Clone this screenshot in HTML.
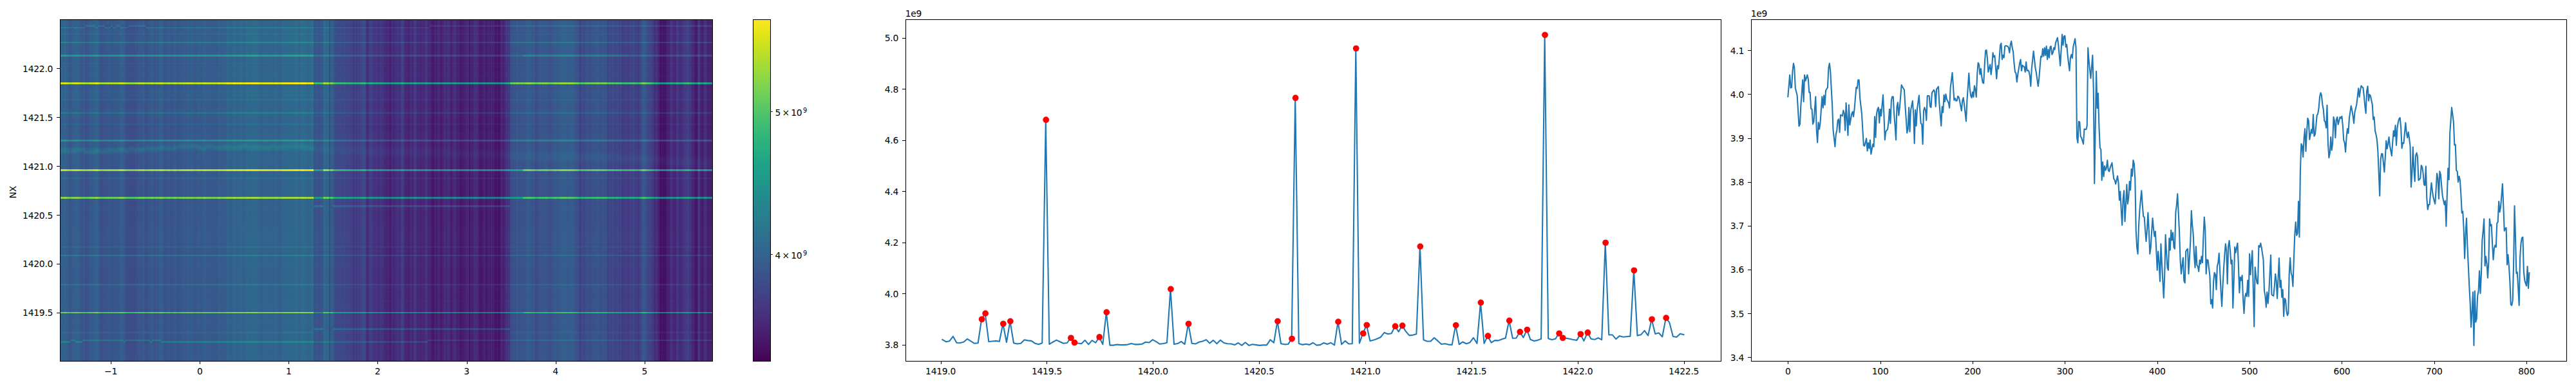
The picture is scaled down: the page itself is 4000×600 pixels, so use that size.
<!DOCTYPE html><html><head><meta charset="utf-8"><title>figure</title>
<style>html,body{margin:0;padding:0;background:#fff;overflow:hidden}svg{display:block}text{font-family:"DejaVu Sans","Liberation Sans",sans-serif;font-size:13.889px;fill:#000;letter-spacing:-0.25px}</style></head><body>
<svg width="4000" height="600" viewBox="0 0 4000 600">
<rect width="4000" height="600" fill="#fff"/>
<defs>
<filter id="vir" filterUnits="userSpaceOnUse" x="90" y="28" width="2120" height="536" color-interpolation-filters="sRGB">
<feOffset in="SourceGraphic" dx="-1100" dy="0" result="rows"/>
<feComposite in="SourceGraphic" in2="rows" operator="arithmetic" k1="0.5609" k2="1" k3="0.5279" k4="0" result="n"/>
<feComponentTransfer in="n"><feFuncR type="table" tableValues=".267 .269 .270 .271 .273 .274 .275 .276 .277 .278 .279 .280 .280 .281 .281 .282 .282 .283 .283 .283 .283 .283 .283 .283 .283 .283 .282 .282 .281 .281 .280 .280 .279 .278 .277 .276 .275 .274 .273 .272 .271 .269 .268 .267 .265 .264 .262 .261 .259 .257 .256 .254 .252 .250 .249 .247 .245 .243 .241 .239 .237 .236 .234 .232 .230 .228 .226 .224 .222 .220 .218 .216 .214 .212 .211 .209 .207 .205 .203 .201 .199 .198 .196 .194 .192 .191 .189 .187 .186 .184 .182 .181 .179 .177 .176 .174 .173 .171 .170 .168 .167 .165 .164 .162 .161 .159 .158 .156 .155 .153 .152 .150 .149 .148 .146 .145 .143 .142 .141 .139 .138 .136 .135 .134 .132 .131 .130 .129 .128 .126 .125 .124 .123 .123 .122 .121 .121 .120 .120 .120 .119 .119 .120 .120 .121 .121 .122 .123 .125 .126 .128 .130 .132 .135 .137 .140 .143 .147 .150 .154 .158 .162 .166 .171 .176 .181 .186 .191 .197 .202 .208 .214 .220 .226 .233 .239 .246 .253 .260 .267 .274 .281 .289 .296 .304 .312 .320 .328 .336 .344 .352 .361 .369 .378 .386 .395 .404 .413 .422 .431 .440 .449 .459 .468 .478 .487 .497 .506 .516 .526 .536 .546 .555 .565 .576 .586 .596 .606 .616 .627 .637 .647 .658 .668 .678 .689 .699 .710 .720 .731 .741 .752 .762 .773 .783 .794 .804 .815 .825 .835 .846 .856 .866 .876 .886 .896 .906 .916 .926 .936 .946 .955 .965 .974 .984 .993"/><feFuncG type="table" tableValues=".005 .010 .015 .020 .026 .031 .038 .044 .050 .056 .062 .068 .073 .079 .084 .090 .095 .100 .105 .111 .116 .121 .126 .131 .136 .141 .146 .151 .156 .161 .166 .171 .175 .180 .185 .190 .195 .200 .205 .209 .214 .219 .224 .228 .233 .238 .242 .247 .252 .256 .261 .265 .270 .274 .279 .283 .288 .292 .296 .301 .305 .310 .314 .318 .322 .327 .331 .335 .339 .343 .347 .352 .356 .360 .364 .368 .372 .376 .380 .384 .388 .392 .395 .399 .403 .407 .411 .415 .419 .422 .426 .430 .434 .438 .441 .445 .449 .453 .456 .460 .464 .467 .471 .475 .479 .482 .486 .490 .493 .497 .501 .504 .508 .512 .515 .519 .523 .526 .530 .534 .537 .541 .545 .549 .552 .556 .560 .563 .567 .571 .574 .578 .582 .585 .589 .593 .596 .600 .604 .607 .611 .615 .618 .622 .626 .629 .633 .637 .640 .644 .648 .651 .655 .659 .662 .666 .669 .673 .677 .680 .684 .687 .691 .694 .698 .701 .705 .708 .712 .715 .719 .722 .726 .729 .732 .736 .739 .742 .745 .749 .752 .755 .758 .762 .765 .768 .771 .774 .777 .780 .783 .786 .789 .792 .795 .797 .800 .803 .806 .808 .811 .814 .816 .819 .821 .824 .826 .829 .831 .833 .836 .838 .840 .842 .845 .847 .849 .851 .853 .855 .857 .858 .860 .862 .864 .865 .867 .869 .870 .872 .873 .875 .876 .878 .879 .881 .882 .883 .885 .886 .887 .889 .890 .891 .892 .894 .895 .896 .897 .899 .900 .901 .902 .904 .905 .906"/><feFuncB type="table" tableValues=".329 .335 .341 .347 .353 .359 .365 .370 .376 .381 .387 .392 .397 .402 .407 .412 .417 .422 .427 .432 .436 .441 .445 .449 .453 .458 .462 .465 .469 .473 .476 .480 .483 .487 .490 .493 .496 .499 .502 .504 .507 .510 .512 .514 .517 .519 .521 .523 .525 .527 .528 .530 .532 .533 .535 .536 .537 .539 .540 .541 .542 .543 .544 .545 .546 .547 .547 .548 .549 .549 .550 .551 .551 .552 .552 .553 .553 .554 .554 .554 .555 .555 .555 .556 .556 .556 .556 .557 .557 .557 .557 .557 .557 .558 .558 .558 .558 .558 .558 .558 .558 .558 .558 .558 .558 .558 .558 .558 .558 .558 .558 .557 .557 .557 .557 .557 .556 .556 .556 .555 .555 .554 .554 .554 .553 .552 .552 .551 .551 .550 .549 .548 .547 .547 .546 .545 .544 .543 .541 .540 .539 .538 .536 .535 .533 .532 .530 .529 .527 .525 .523 .522 .520 .518 .516 .513 .511 .509 .507 .504 .502 .499 .497 .494 .491 .488 .485 .482 .479 .476 .473 .470 .466 .463 .459 .456 .452 .448 .444 .441 .437 .433 .428 .424 .420 .416 .411 .407 .402 .397 .393 .388 .383 .378 .373 .368 .363 .357 .352 .346 .341 .335 .330 .324 .318 .312 .306 .300 .294 .288 .282 .276 .269 .263 .256 .250 .243 .237 .230 .223 .217 .210 .203 .196 .190 .183 .176 .169 .163 .156 .150 .143 .137 .131 .125 .120 .115 .110 .106 .103 .100 .097 .096 .095 .095 .096 .098 .101 .104 .108 .113 .118 .124 .130 .137 .144"/></feComponentTransfer>
</filter>
<clipPath id="c1"><rect x="93" y="30" width="1014" height="532"/></clipPath>
<linearGradient id="cbg" x1="0" y1="0" x2="0" y2="1"><stop offset="0.0000" stop-color="#fde725"/><stop offset="0.0159" stop-color="#f4e61e"/><stop offset="0.0317" stop-color="#eae51a"/><stop offset="0.0476" stop-color="#dfe318"/><stop offset="0.0635" stop-color="#d5e21a"/><stop offset="0.0794" stop-color="#cae11f"/><stop offset="0.0952" stop-color="#c0df25"/><stop offset="0.1111" stop-color="#b5de2b"/><stop offset="0.1270" stop-color="#aadc32"/><stop offset="0.1429" stop-color="#a0da39"/><stop offset="0.1587" stop-color="#95d840"/><stop offset="0.1746" stop-color="#8bd646"/><stop offset="0.1905" stop-color="#81d34d"/><stop offset="0.2063" stop-color="#77d153"/><stop offset="0.2222" stop-color="#6ece58"/><stop offset="0.2381" stop-color="#65cb5e"/><stop offset="0.2540" stop-color="#5ac864"/><stop offset="0.2698" stop-color="#52c569"/><stop offset="0.2857" stop-color="#4ac16d"/><stop offset="0.3016" stop-color="#42be71"/><stop offset="0.3175" stop-color="#3bbb75"/><stop offset="0.3333" stop-color="#35b779"/><stop offset="0.3492" stop-color="#2fb47c"/><stop offset="0.3651" stop-color="#2ab07f"/><stop offset="0.3810" stop-color="#26ad81"/><stop offset="0.3968" stop-color="#23a983"/><stop offset="0.4127" stop-color="#21a585"/><stop offset="0.4286" stop-color="#1fa187"/><stop offset="0.4444" stop-color="#1f9e89"/><stop offset="0.4603" stop-color="#1f9a8a"/><stop offset="0.4762" stop-color="#1f968b"/><stop offset="0.4921" stop-color="#20928c"/><stop offset="0.5079" stop-color="#218e8d"/><stop offset="0.5238" stop-color="#238a8d"/><stop offset="0.5397" stop-color="#24868e"/><stop offset="0.5556" stop-color="#26828e"/><stop offset="0.5714" stop-color="#277f8e"/><stop offset="0.5873" stop-color="#297b8e"/><stop offset="0.6032" stop-color="#2a778e"/><stop offset="0.6190" stop-color="#2c738e"/><stop offset="0.6349" stop-color="#2d708e"/><stop offset="0.6508" stop-color="#2f6c8e"/><stop offset="0.6667" stop-color="#31688e"/><stop offset="0.6825" stop-color="#32648e"/><stop offset="0.6984" stop-color="#34608d"/><stop offset="0.7143" stop-color="#365c8d"/><stop offset="0.7302" stop-color="#38588c"/><stop offset="0.7460" stop-color="#3a538b"/><stop offset="0.7619" stop-color="#3d4e8a"/><stop offset="0.7778" stop-color="#3e4989"/><stop offset="0.7937" stop-color="#404588"/><stop offset="0.8095" stop-color="#424086"/><stop offset="0.8254" stop-color="#443b84"/><stop offset="0.8413" stop-color="#453781"/><stop offset="0.8571" stop-color="#46327e"/><stop offset="0.8730" stop-color="#472d7b"/><stop offset="0.8889" stop-color="#482878"/><stop offset="0.9048" stop-color="#482374"/><stop offset="0.9206" stop-color="#481d6f"/><stop offset="0.9365" stop-color="#48186a"/><stop offset="0.9524" stop-color="#471365"/><stop offset="0.9683" stop-color="#470d60"/><stop offset="0.9841" stop-color="#46075a"/><stop offset="1.0000" stop-color="#440154"/></linearGradient>
<clipPath id="c2"><rect x="1405.76" y="30.17" width="1266.26" height="531.11"/></clipPath>
<clipPath id="c3"><rect x="2718.74" y="30.17" width="1266.26" height="531.11"/></clipPath>
</defs>
<g clip-path="url(#c1)"><g filter="url(#vir)" shape-rendering="crispEdges">
<rect x="90" y="28" width="1020" height="536" fill="#000"/>
<rect x="1190" y="28" width="1020" height="536" fill="#000"/>
<rect x="92.78" y="29" width="1.28" height="534" fill="#474747"/>
<rect x="94.04" y="29" width="1.28" height="534" fill="#4a4a4a"/>
<rect x="95.3" y="29" width="1.28" height="534" fill="#4d4d4d"/>
<rect x="96.56" y="29" width="1.28" height="534" fill="#494949"/>
<rect x="97.82" y="29" width="1.28" height="534" fill="#4a4a4a"/>
<rect x="99.08" y="29" width="1.28" height="534" fill="#4e4e4e"/>
<rect x="100.34" y="29" width="1.28" height="534" fill="#505050"/>
<rect x="101.6" y="29" width="1.28" height="534" fill="#4f4f4f"/>
<rect x="102.86" y="29" width="1.28" height="534" fill="#494949"/>
<rect x="104.12" y="29" width="1.28" height="534" fill="#484848"/>
<rect x="105.38" y="29" width="1.28" height="534" fill="#474747"/>
<rect x="106.64" y="29" width="1.28" height="534" fill="#434343"/>
<rect x="107.9" y="29" width="1.28" height="534" fill="#3f3f3f"/>
<rect x="109.16" y="29" width="1.28" height="534" fill="#404040"/>
<rect x="110.42" y="29" width="1.28" height="534" fill="#454545"/>
<rect x="111.68" y="29" width="1.28" height="534" fill="#484848"/>
<rect x="112.94" y="29" width="1.28" height="534" fill="#4c4c4c"/>
<rect x="114.2" y="29" width="1.28" height="534" fill="#464646"/>
<rect x="115.46" y="29" width="1.28" height="534" fill="#4d4d4d"/>
<rect x="116.72" y="29" width="1.28" height="534" fill="#4b4b4b"/>
<rect x="117.98" y="29" width="1.28" height="534" fill="#4c4c4c"/>
<rect x="119.24" y="29" width="1.28" height="534" fill="#4d4d4d"/>
<rect x="120.5" y="29" width="1.28" height="534" fill="#4c4c4c"/>
<rect x="121.76" y="29" width="2.54" height="534" fill="#484848"/>
<rect x="124.28" y="29" width="2.54" height="534" fill="#444444"/>
<rect x="126.8" y="29" width="2.54" height="534" fill="#404040"/>
<rect x="129.32" y="29" width="1.28" height="534" fill="#444444"/>
<rect x="130.58" y="29" width="1.28" height="534" fill="#474747"/>
<rect x="131.84" y="29" width="1.28" height="534" fill="#3e3e3e"/>
<rect x="133.1" y="29" width="1.28" height="534" fill="#3b3b3b"/>
<rect x="134.36" y="29" width="1.28" height="534" fill="#404040"/>
<rect x="135.62" y="29" width="1.28" height="534" fill="#3e3e3e"/>
<rect x="136.88" y="29" width="1.28" height="534" fill="#404040"/>
<rect x="138.14" y="29" width="1.28" height="534" fill="#444444"/>
<rect x="139.4" y="29" width="1.28" height="534" fill="#474747"/>
<rect x="140.66" y="29" width="1.28" height="534" fill="#444444"/>
<rect x="141.92" y="29" width="1.28" height="534" fill="#474747"/>
<rect x="143.18" y="29" width="1.28" height="534" fill="#454545"/>
<rect x="144.44" y="29" width="2.54" height="534" fill="#494949"/>
<rect x="146.96" y="29" width="1.28" height="534" fill="#4a4a4a"/>
<rect x="148.22" y="29" width="1.28" height="534" fill="#4f4f4f"/>
<rect x="149.48" y="29" width="1.28" height="534" fill="#505050"/>
<rect x="150.74" y="29" width="1.28" height="534" fill="#4e4e4e"/>
<rect x="152" y="29" width="1.28" height="534" fill="#494949"/>
<rect x="153.26" y="29" width="1.28" height="534" fill="#454545"/>
<rect x="154.52" y="29" width="1.28" height="534" fill="#3e3e3e"/>
<rect x="155.78" y="29" width="1.28" height="534" fill="#3c3c3c"/>
<rect x="157.04" y="29" width="1.28" height="534" fill="#3a3a3a"/>
<rect x="158.3" y="29" width="1.28" height="534" fill="#3d3d3d"/>
<rect x="159.56" y="29" width="1.28" height="534" fill="#3e3e3e"/>
<rect x="160.82" y="29" width="2.54" height="534" fill="#414141"/>
<rect x="163.34" y="29" width="1.28" height="534" fill="#3e3e3e"/>
<rect x="164.6" y="29" width="3.8" height="534" fill="#424242"/>
<rect x="168.38" y="29" width="2.54" height="534" fill="#434343"/>
<rect x="170.9" y="29" width="1.28" height="534" fill="#3e3e3e"/>
<rect x="172.16" y="29" width="1.28" height="534" fill="#454545"/>
<rect x="173.42" y="29" width="1.28" height="534" fill="#414141"/>
<rect x="174.68" y="29" width="1.28" height="534" fill="#3d3d3d"/>
<rect x="175.94" y="29" width="1.28" height="534" fill="#454545"/>
<rect x="177.2" y="29" width="1.28" height="534" fill="#404040"/>
<rect x="178.46" y="29" width="1.28" height="534" fill="#414141"/>
<rect x="179.72" y="29" width="1.28" height="534" fill="#424242"/>
<rect x="180.98" y="29" width="1.28" height="534" fill="#434343"/>
<rect x="182.24" y="29" width="1.28" height="534" fill="#424242"/>
<rect x="183.5" y="29" width="1.28" height="534" fill="#444444"/>
<rect x="184.76" y="29" width="1.28" height="534" fill="#474747"/>
<rect x="186.02" y="29" width="1.28" height="534" fill="#4a4a4a"/>
<rect x="187.28" y="29" width="1.28" height="534" fill="#494949"/>
<rect x="188.54" y="29" width="2.54" height="534" fill="#4c4c4c"/>
<rect x="191.06" y="29" width="1.28" height="534" fill="#474747"/>
<rect x="192.32" y="29" width="1.28" height="534" fill="#454545"/>
<rect x="193.58" y="29" width="1.28" height="534" fill="#424242"/>
<rect x="194.84" y="29" width="1.28" height="534" fill="#3e3e3e"/>
<rect x="196.1" y="29" width="2.54" height="534" fill="#3a3a3a"/>
<rect x="198.62" y="29" width="1.28" height="534" fill="#3b3b3b"/>
<rect x="199.88" y="29" width="1.28" height="534" fill="#3c3c3c"/>
<rect x="201.14" y="29" width="1.28" height="534" fill="#383838"/>
<rect x="202.4" y="29" width="1.28" height="534" fill="#3b3b3b"/>
<rect x="203.66" y="29" width="1.28" height="534" fill="#393939"/>
<rect x="204.92" y="29" width="1.28" height="534" fill="#3c3c3c"/>
<rect x="206.18" y="29" width="1.28" height="534" fill="#383838"/>
<rect x="207.44" y="29" width="1.28" height="534" fill="#393939"/>
<rect x="208.7" y="29" width="2.54" height="534" fill="#3a3a3a"/>
<rect x="211.22" y="29" width="1.28" height="534" fill="#424242"/>
<rect x="212.48" y="29" width="1.28" height="534" fill="#3c3c3c"/>
<rect x="213.74" y="29" width="1.28" height="534" fill="#424242"/>
<rect x="215" y="29" width="2.54" height="534" fill="#444444"/>
<rect x="217.52" y="29" width="1.28" height="534" fill="#404040"/>
<rect x="218.78" y="29" width="1.28" height="534" fill="#444444"/>
<rect x="220.04" y="29" width="1.28" height="534" fill="#424242"/>
<rect x="221.3" y="29" width="1.28" height="534" fill="#454545"/>
<rect x="222.56" y="29" width="1.28" height="534" fill="#484848"/>
<rect x="223.82" y="29" width="1.28" height="534" fill="#424242"/>
<rect x="225.08" y="29" width="1.28" height="534" fill="#3b3b3b"/>
<rect x="226.34" y="29" width="3.8" height="534" fill="#3e3e3e"/>
<rect x="230.12" y="29" width="1.28" height="534" fill="#404040"/>
<rect x="231.38" y="29" width="1.28" height="534" fill="#444444"/>
<rect x="232.64" y="29" width="1.28" height="534" fill="#404040"/>
<rect x="233.9" y="29" width="1.28" height="534" fill="#464646"/>
<rect x="235.16" y="29" width="2.54" height="534" fill="#474747"/>
<rect x="237.68" y="29" width="1.28" height="534" fill="#424242"/>
<rect x="238.94" y="29" width="1.28" height="534" fill="#3f3f3f"/>
<rect x="240.2" y="29" width="1.28" height="534" fill="#3c3c3c"/>
<rect x="241.46" y="29" width="1.28" height="534" fill="#444444"/>
<rect x="242.72" y="29" width="1.28" height="534" fill="#464646"/>
<rect x="243.98" y="29" width="1.28" height="534" fill="#424242"/>
<rect x="245.24" y="29" width="1.28" height="534" fill="#444444"/>
<rect x="246.5" y="29" width="1.28" height="534" fill="#474747"/>
<rect x="247.76" y="29" width="2.54" height="534" fill="#4a4a4a"/>
<rect x="250.28" y="29" width="2.54" height="534" fill="#494949"/>
<rect x="252.8" y="29" width="1.28" height="534" fill="#454545"/>
<rect x="254.06" y="29" width="1.28" height="534" fill="#414141"/>
<rect x="255.32" y="29" width="1.28" height="534" fill="#3d3d3d"/>
<rect x="256.58" y="29" width="1.28" height="534" fill="#3e3e3e"/>
<rect x="257.84" y="29" width="1.28" height="534" fill="#444444"/>
<rect x="259.1" y="29" width="1.28" height="534" fill="#3e3e3e"/>
<rect x="260.36" y="29" width="1.28" height="534" fill="#434343"/>
<rect x="261.62" y="29" width="1.28" height="534" fill="#454545"/>
<rect x="262.87" y="29" width="1.28" height="534" fill="#464646"/>
<rect x="264.13" y="29" width="1.28" height="534" fill="#424242"/>
<rect x="265.39" y="29" width="1.28" height="534" fill="#3b3b3b"/>
<rect x="266.65" y="29" width="1.28" height="534" fill="#444444"/>
<rect x="267.91" y="29" width="1.28" height="534" fill="#3f3f3f"/>
<rect x="269.17" y="29" width="1.28" height="534" fill="#444444"/>
<rect x="270.43" y="29" width="1.28" height="534" fill="#464646"/>
<rect x="271.69" y="29" width="1.28" height="534" fill="#474747"/>
<rect x="272.95" y="29" width="1.28" height="534" fill="#434343"/>
<rect x="274.21" y="29" width="2.54" height="534" fill="#404040"/>
<rect x="276.73" y="29" width="1.28" height="534" fill="#3a3a3a"/>
<rect x="277.99" y="29" width="1.28" height="534" fill="#434343"/>
<rect x="279.25" y="29" width="1.28" height="534" fill="#444444"/>
<rect x="280.51" y="29" width="1.28" height="534" fill="#434343"/>
<rect x="281.77" y="29" width="1.28" height="534" fill="#414141"/>
<rect x="283.03" y="29" width="3.8" height="534" fill="#474747"/>
<rect x="286.81" y="29" width="2.54" height="534" fill="#444444"/>
<rect x="289.33" y="29" width="1.28" height="534" fill="#484848"/>
<rect x="290.59" y="29" width="2.54" height="534" fill="#494949"/>
<rect x="293.11" y="29" width="1.28" height="534" fill="#484848"/>
<rect x="294.37" y="29" width="1.28" height="534" fill="#444444"/>
<rect x="295.63" y="29" width="2.54" height="534" fill="#494949"/>
<rect x="298.15" y="29" width="1.28" height="534" fill="#4a4a4a"/>
<rect x="299.41" y="29" width="1.28" height="534" fill="#454545"/>
<rect x="300.67" y="29" width="1.28" height="534" fill="#424242"/>
<rect x="301.93" y="29" width="1.28" height="534" fill="#3f3f3f"/>
<rect x="303.19" y="29" width="1.28" height="534" fill="#444444"/>
<rect x="304.45" y="29" width="1.28" height="534" fill="#434343"/>
<rect x="305.71" y="29" width="1.28" height="534" fill="#484848"/>
<rect x="306.97" y="29" width="1.28" height="534" fill="#464646"/>
<rect x="308.23" y="29" width="1.28" height="534" fill="#484848"/>
<rect x="309.49" y="29" width="2.54" height="534" fill="#464646"/>
<rect x="312.01" y="29" width="1.28" height="534" fill="#454545"/>
<rect x="313.27" y="29" width="1.28" height="534" fill="#444444"/>
<rect x="314.53" y="29" width="1.28" height="534" fill="#494949"/>
<rect x="315.79" y="29" width="1.28" height="534" fill="#4b4b4b"/>
<rect x="317.05" y="29" width="1.28" height="534" fill="#4d4d4d"/>
<rect x="318.31" y="29" width="1.28" height="534" fill="#4a4a4a"/>
<rect x="319.57" y="29" width="1.28" height="534" fill="#464646"/>
<rect x="320.83" y="29" width="1.28" height="534" fill="#474747"/>
<rect x="322.09" y="29" width="2.54" height="534" fill="#464646"/>
<rect x="324.61" y="29" width="2.54" height="534" fill="#474747"/>
<rect x="327.13" y="29" width="1.28" height="534" fill="#464646"/>
<rect x="328.39" y="29" width="1.28" height="534" fill="#454545"/>
<rect x="329.65" y="29" width="1.28" height="534" fill="#434343"/>
<rect x="330.91" y="29" width="1.28" height="534" fill="#464646"/>
<rect x="332.17" y="29" width="1.28" height="534" fill="#474747"/>
<rect x="333.43" y="29" width="1.28" height="534" fill="#454545"/>
<rect x="334.69" y="29" width="1.28" height="534" fill="#434343"/>
<rect x="335.95" y="29" width="1.28" height="534" fill="#414141"/>
<rect x="337.21" y="29" width="1.28" height="534" fill="#464646"/>
<rect x="338.47" y="29" width="1.28" height="534" fill="#4a4a4a"/>
<rect x="339.73" y="29" width="1.28" height="534" fill="#4d4d4d"/>
<rect x="340.99" y="29" width="1.28" height="534" fill="#494949"/>
<rect x="342.25" y="29" width="2.54" height="534" fill="#474747"/>
<rect x="344.77" y="29" width="1.28" height="534" fill="#484848"/>
<rect x="346.03" y="29" width="1.28" height="534" fill="#474747"/>
<rect x="347.29" y="29" width="1.28" height="534" fill="#4a4a4a"/>
<rect x="348.55" y="29" width="1.28" height="534" fill="#494949"/>
<rect x="349.81" y="29" width="1.28" height="534" fill="#474747"/>
<rect x="351.07" y="29" width="1.28" height="534" fill="#4d4d4d"/>
<rect x="352.33" y="29" width="2.54" height="534" fill="#505050"/>
<rect x="354.85" y="29" width="1.28" height="534" fill="#4d4d4d"/>
<rect x="356.11" y="29" width="1.28" height="534" fill="#4f4f4f"/>
<rect x="357.37" y="29" width="1.28" height="534" fill="#4c4c4c"/>
<rect x="358.63" y="29" width="2.54" height="534" fill="#4b4b4b"/>
<rect x="361.15" y="29" width="1.28" height="534" fill="#4f4f4f"/>
<rect x="362.41" y="29" width="2.54" height="534" fill="#535353"/>
<rect x="364.93" y="29" width="1.28" height="534" fill="#515151"/>
<rect x="366.19" y="29" width="1.28" height="534" fill="#4e4e4e"/>
<rect x="367.45" y="29" width="1.28" height="534" fill="#4f4f4f"/>
<rect x="368.71" y="29" width="1.28" height="534" fill="#505050"/>
<rect x="369.97" y="29" width="1.28" height="534" fill="#4d4d4d"/>
<rect x="371.23" y="29" width="1.28" height="534" fill="#4f4f4f"/>
<rect x="372.49" y="29" width="1.28" height="534" fill="#535353"/>
<rect x="373.75" y="29" width="2.54" height="534" fill="#525252"/>
<rect x="376.27" y="29" width="1.28" height="534" fill="#4f4f4f"/>
<rect x="377.53" y="29" width="1.28" height="534" fill="#4c4c4c"/>
<rect x="378.79" y="29" width="2.54" height="534" fill="#4f4f4f"/>
<rect x="381.31" y="29" width="1.28" height="534" fill="#515151"/>
<rect x="382.57" y="29" width="2.54" height="534" fill="#555555"/>
<rect x="385.09" y="29" width="1.28" height="534" fill="#515151"/>
<rect x="386.35" y="29" width="1.28" height="534" fill="#525252"/>
<rect x="387.61" y="29" width="1.28" height="534" fill="#515151"/>
<rect x="388.87" y="29" width="1.28" height="534" fill="#545454"/>
<rect x="390.13" y="29" width="1.28" height="534" fill="#555555"/>
<rect x="391.39" y="29" width="3.8" height="534" fill="#545454"/>
<rect x="395.17" y="29" width="1.28" height="534" fill="#535353"/>
<rect x="396.43" y="29" width="1.28" height="534" fill="#555555"/>
<rect x="397.69" y="29" width="1.28" height="534" fill="#565656"/>
<rect x="398.95" y="29" width="1.28" height="534" fill="#545454"/>
<rect x="400.21" y="29" width="1.28" height="534" fill="#535353"/>
<rect x="401.47" y="29" width="1.28" height="534" fill="#505050"/>
<rect x="402.73" y="29" width="1.28" height="534" fill="#4e4e4e"/>
<rect x="403.99" y="29" width="1.28" height="534" fill="#4d4d4d"/>
<rect x="405.25" y="29" width="1.28" height="534" fill="#4b4b4b"/>
<rect x="406.51" y="29" width="1.28" height="534" fill="#4d4d4d"/>
<rect x="407.77" y="29" width="1.28" height="534" fill="#4e4e4e"/>
<rect x="409.03" y="29" width="1.28" height="534" fill="#505050"/>
<rect x="410.29" y="29" width="1.28" height="534" fill="#515151"/>
<rect x="411.55" y="29" width="1.28" height="534" fill="#4e4e4e"/>
<rect x="412.81" y="29" width="3.8" height="534" fill="#4f4f4f"/>
<rect x="416.59" y="29" width="1.28" height="534" fill="#4e4e4e"/>
<rect x="417.85" y="29" width="1.28" height="534" fill="#505050"/>
<rect x="419.11" y="29" width="3.8" height="534" fill="#4e4e4e"/>
<rect x="422.89" y="29" width="1.28" height="534" fill="#4d4d4d"/>
<rect x="424.15" y="29" width="1.28" height="534" fill="#4a4a4a"/>
<rect x="425.41" y="29" width="1.28" height="534" fill="#4f4f4f"/>
<rect x="426.67" y="29" width="1.28" height="534" fill="#515151"/>
<rect x="427.93" y="29" width="1.28" height="534" fill="#535353"/>
<rect x="429.19" y="29" width="1.28" height="534" fill="#515151"/>
<rect x="430.45" y="29" width="1.28" height="534" fill="#4f4f4f"/>
<rect x="431.71" y="29" width="1.28" height="534" fill="#4d4d4d"/>
<rect x="432.97" y="29" width="1.28" height="534" fill="#4c4c4c"/>
<rect x="434.23" y="29" width="1.28" height="534" fill="#4a4a4a"/>
<rect x="435.49" y="29" width="1.28" height="534" fill="#4c4c4c"/>
<rect x="436.75" y="29" width="1.28" height="534" fill="#4f4f4f"/>
<rect x="438.01" y="29" width="2.54" height="534" fill="#525252"/>
<rect x="440.53" y="29" width="1.28" height="534" fill="#545454"/>
<rect x="441.79" y="29" width="1.28" height="534" fill="#525252"/>
<rect x="443.05" y="29" width="1.28" height="534" fill="#545454"/>
<rect x="444.31" y="29" width="1.28" height="534" fill="#525252"/>
<rect x="445.57" y="29" width="1.28" height="534" fill="#545454"/>
<rect x="446.83" y="29" width="1.28" height="534" fill="#515151"/>
<rect x="448.09" y="29" width="1.28" height="534" fill="#545454"/>
<rect x="449.35" y="29" width="1.28" height="534" fill="#515151"/>
<rect x="450.61" y="29" width="2.54" height="534" fill="#545454"/>
<rect x="453.13" y="29" width="1.28" height="534" fill="#525252"/>
<rect x="454.39" y="29" width="1.28" height="534" fill="#535353"/>
<rect x="455.65" y="29" width="2.54" height="534" fill="#545454"/>
<rect x="458.17" y="29" width="1.28" height="534" fill="#555555"/>
<rect x="459.43" y="29" width="1.28" height="534" fill="#565656"/>
<rect x="460.69" y="29" width="1.28" height="534" fill="#575757"/>
<rect x="461.95" y="29" width="1.28" height="534" fill="#555555"/>
<rect x="463.21" y="29" width="1.28" height="534" fill="#525252"/>
<rect x="464.47" y="29" width="1.28" height="534" fill="#4f4f4f"/>
<rect x="465.73" y="29" width="1.28" height="534" fill="#545454"/>
<rect x="466.99" y="29" width="1.28" height="534" fill="#575757"/>
<rect x="468.25" y="29" width="1.28" height="534" fill="#555555"/>
<rect x="469.51" y="29" width="2.54" height="534" fill="#575757"/>
<rect x="472.03" y="29" width="1.28" height="534" fill="#545454"/>
<rect x="473.29" y="29" width="1.28" height="534" fill="#555555"/>
<rect x="474.55" y="29" width="1.28" height="534" fill="#525252"/>
<rect x="475.81" y="29" width="1.28" height="534" fill="#505050"/>
<rect x="477.07" y="29" width="1.28" height="534" fill="#4e4e4e"/>
<rect x="478.33" y="29" width="1.28" height="534" fill="#515151"/>
<rect x="479.59" y="29" width="1.28" height="534" fill="#525252"/>
<rect x="480.85" y="29" width="1.28" height="534" fill="#515151"/>
<rect x="482.11" y="29" width="1.28" height="534" fill="#545454"/>
<rect x="483.37" y="29" width="1.28" height="534" fill="#555555"/>
<rect x="484.63" y="29" width="1.28" height="534" fill="#565656"/>
<rect x="485.89" y="29" width="1.28" height="534" fill="#545454"/>
<rect x="487.15" y="29" width="1.28" height="534" fill="#3e3e3e"/>
<rect x="488.41" y="29" width="1.28" height="534" fill="#3d3d3d"/>
<rect x="489.67" y="29" width="2.54" height="534" fill="#434343"/>
<rect x="492.19" y="29" width="1.28" height="534" fill="#3f3f3f"/>
<rect x="493.45" y="29" width="1.28" height="534" fill="#3e3e3e"/>
<rect x="494.71" y="29" width="2.54" height="534" fill="#3d3d3d"/>
<rect x="497.23" y="29" width="5.06" height="534" fill="#414141"/>
<rect x="502.27" y="29" width="1.28" height="534" fill="#565656"/>
<rect x="503.53" y="29" width="1.28" height="534" fill="#525252"/>
<rect x="504.79" y="29" width="1.28" height="534" fill="#505050"/>
<rect x="506.05" y="29" width="1.28" height="534" fill="#4e4e4e"/>
<rect x="507.31" y="29" width="1.28" height="534" fill="#515151"/>
<rect x="508.57" y="29" width="1.28" height="534" fill="#545454"/>
<rect x="509.83" y="29" width="1.28" height="534" fill="#4a4a4a"/>
<rect x="511.09" y="29" width="1.28" height="534" fill="#313131"/>
<rect x="512.35" y="29" width="1.28" height="534" fill="#414141"/>
<rect x="513.61" y="29" width="1.28" height="534" fill="#505050"/>
<rect x="514.87" y="29" width="1.28" height="534" fill="#464646"/>
<rect x="516.13" y="29" width="1.28" height="534" fill="#4a4a4a"/>
<rect x="517.39" y="29" width="1.28" height="534" fill="#414141"/>
<rect x="518.65" y="29" width="2.54" height="534" fill="#3b3b3b"/>
<rect x="521.17" y="29" width="1.28" height="534" fill="#323232"/>
<rect x="522.43" y="29" width="1.28" height="534" fill="#373737"/>
<rect x="523.69" y="29" width="1.28" height="534" fill="#333333"/>
<rect x="524.95" y="29" width="1.28" height="534" fill="#363636"/>
<rect x="526.21" y="29" width="2.54" height="534" fill="#353535"/>
<rect x="528.73" y="29" width="1.28" height="534" fill="#383838"/>
<rect x="529.99" y="29" width="1.28" height="534" fill="#353535"/>
<rect x="531.25" y="29" width="1.28" height="534" fill="#343434"/>
<rect x="532.51" y="29" width="1.28" height="534" fill="#353535"/>
<rect x="533.77" y="29" width="1.28" height="534" fill="#363636"/>
<rect x="535.03" y="29" width="1.28" height="534" fill="#373737"/>
<rect x="536.29" y="29" width="1.28" height="534" fill="#343434"/>
<rect x="537.55" y="29" width="2.54" height="534" fill="#323232"/>
<rect x="540.07" y="29" width="1.28" height="534" fill="#313131"/>
<rect x="541.33" y="29" width="1.28" height="534" fill="#323232"/>
<rect x="542.59" y="29" width="1.28" height="534" fill="#333333"/>
<rect x="543.85" y="29" width="1.28" height="534" fill="#313131"/>
<rect x="545.11" y="29" width="1.28" height="534" fill="#2c2c2c"/>
<rect x="546.37" y="29" width="1.28" height="534" fill="#2f2f2f"/>
<rect x="547.63" y="29" width="1.28" height="534" fill="#292929"/>
<rect x="548.89" y="29" width="1.28" height="534" fill="#252525"/>
<rect x="550.15" y="29" width="1.28" height="534" fill="#2d2d2d"/>
<rect x="551.41" y="29" width="1.28" height="534" fill="#2f2f2f"/>
<rect x="552.67" y="29" width="1.28" height="534" fill="#262626"/>
<rect x="553.93" y="29" width="1.28" height="534" fill="#2b2b2b"/>
<rect x="555.19" y="29" width="1.28" height="534" fill="#313131"/>
<rect x="556.45" y="29" width="1.28" height="534" fill="#2b2b2b"/>
<rect x="557.71" y="29" width="1.28" height="534" fill="#2d2d2d"/>
<rect x="558.97" y="29" width="1.28" height="534" fill="#323232"/>
<rect x="560.23" y="29" width="1.28" height="534" fill="#2f2f2f"/>
<rect x="561.49" y="29" width="1.28" height="534" fill="#353535"/>
<rect x="562.75" y="29" width="1.28" height="534" fill="#333333"/>
<rect x="564.01" y="29" width="1.28" height="534" fill="#383838"/>
<rect x="565.27" y="29" width="1.28" height="534" fill="#373737"/>
<rect x="566.53" y="29" width="1.28" height="534" fill="#323232"/>
<rect x="567.79" y="29" width="1.28" height="534" fill="#242424"/>
<rect x="569.05" y="29" width="1.28" height="534" fill="#1f1f1f"/>
<rect x="570.31" y="29" width="1.28" height="534" fill="#1d1d1d"/>
<rect x="571.57" y="29" width="1.28" height="534" fill="#252525"/>
<rect x="572.83" y="29" width="1.28" height="534" fill="#292929"/>
<rect x="574.09" y="29" width="1.28" height="534" fill="#2c2c2c"/>
<rect x="575.35" y="29" width="1.28" height="534" fill="#2f2f2f"/>
<rect x="576.61" y="29" width="1.28" height="534" fill="#2b2b2b"/>
<rect x="577.87" y="29" width="1.28" height="534" fill="#282828"/>
<rect x="579.13" y="29" width="1.28" height="534" fill="#272727"/>
<rect x="580.39" y="29" width="1.28" height="534" fill="#242424"/>
<rect x="581.65" y="29" width="1.28" height="534" fill="#202020"/>
<rect x="582.91" y="29" width="1.28" height="534" fill="#242424"/>
<rect x="584.17" y="29" width="1.28" height="534" fill="#292929"/>
<rect x="585.43" y="29" width="1.28" height="534" fill="#242424"/>
<rect x="586.69" y="29" width="1.28" height="534" fill="#1d1d1d"/>
<rect x="587.95" y="29" width="1.28" height="534" fill="#1f1f1f"/>
<rect x="589.21" y="29" width="1.28" height="534" fill="#232323"/>
<rect x="590.47" y="29" width="1.28" height="534" fill="#272727"/>
<rect x="591.73" y="29" width="1.28" height="534" fill="#242424"/>
<rect x="592.99" y="29" width="1.28" height="534" fill="#222222"/>
<rect x="594.25" y="29" width="1.28" height="534" fill="#232323"/>
<rect x="595.51" y="29" width="1.28" height="534" fill="#1e1e1e"/>
<rect x="596.77" y="29" width="1.28" height="534" fill="#181818"/>
<rect x="598.03" y="29" width="1.28" height="534" fill="#1e1e1e"/>
<rect x="599.29" y="29" width="1.28" height="534" fill="#1a1a1a"/>
<rect x="600.54" y="29" width="1.28" height="534" fill="#151515"/>
<rect x="601.8" y="29" width="1.28" height="534" fill="#202020"/>
<rect x="603.06" y="29" width="1.28" height="534" fill="#1a1a1a"/>
<rect x="604.32" y="29" width="1.28" height="534" fill="#151515"/>
<rect x="605.58" y="29" width="1.28" height="534" fill="#101010"/>
<rect x="606.84" y="29" width="1.28" height="534" fill="#161616"/>
<rect x="608.1" y="29" width="1.28" height="534" fill="#222222"/>
<rect x="609.36" y="29" width="1.28" height="534" fill="#1d1d1d"/>
<rect x="610.62" y="29" width="1.28" height="534" fill="#191919"/>
<rect x="611.88" y="29" width="1.28" height="534" fill="#181818"/>
<rect x="613.14" y="29" width="1.28" height="534" fill="#212121"/>
<rect x="614.4" y="29" width="1.28" height="534" fill="#1e1e1e"/>
<rect x="615.66" y="29" width="1.28" height="534" fill="#242424"/>
<rect x="616.92" y="29" width="1.28" height="534" fill="#212121"/>
<rect x="618.18" y="29" width="1.28" height="534" fill="#232323"/>
<rect x="619.44" y="29" width="1.28" height="534" fill="#1f1f1f"/>
<rect x="620.7" y="29" width="1.28" height="534" fill="#1e1e1e"/>
<rect x="621.96" y="29" width="1.28" height="534" fill="#292929"/>
<rect x="623.22" y="29" width="1.28" height="534" fill="#2b2b2b"/>
<rect x="624.48" y="29" width="1.28" height="534" fill="#2e2e2e"/>
<rect x="625.74" y="29" width="1.28" height="534" fill="#292929"/>
<rect x="627" y="29" width="1.28" height="534" fill="#232323"/>
<rect x="628.26" y="29" width="1.28" height="534" fill="#1b1b1b"/>
<rect x="629.52" y="29" width="1.28" height="534" fill="#171717"/>
<rect x="630.78" y="29" width="1.28" height="534" fill="#1a1a1a"/>
<rect x="632.04" y="29" width="1.28" height="534" fill="#1c1c1c"/>
<rect x="633.3" y="29" width="1.28" height="534" fill="#151515"/>
<rect x="634.56" y="29" width="1.28" height="534" fill="#141414"/>
<rect x="635.82" y="29" width="3.8" height="534" fill="#1e1e1e"/>
<rect x="639.6" y="29" width="1.28" height="534" fill="#171717"/>
<rect x="640.86" y="29" width="1.28" height="534" fill="#1c1c1c"/>
<rect x="642.12" y="29" width="1.28" height="534" fill="#202020"/>
<rect x="643.38" y="29" width="1.28" height="534" fill="#292929"/>
<rect x="644.64" y="29" width="1.28" height="534" fill="#252525"/>
<rect x="645.9" y="29" width="1.28" height="534" fill="#232323"/>
<rect x="647.16" y="29" width="1.28" height="534" fill="#1c1c1c"/>
<rect x="648.42" y="29" width="1.28" height="534" fill="#191919"/>
<rect x="649.68" y="29" width="1.28" height="534" fill="#1f1f1f"/>
<rect x="650.94" y="29" width="1.28" height="534" fill="#1a1a1a"/>
<rect x="652.2" y="29" width="1.28" height="534" fill="#191919"/>
<rect x="653.46" y="29" width="1.28" height="534" fill="#181818"/>
<rect x="654.72" y="29" width="1.28" height="534" fill="#1b1b1b"/>
<rect x="655.98" y="29" width="1.28" height="534" fill="#1a1a1a"/>
<rect x="657.24" y="29" width="1.28" height="534" fill="#1c1c1c"/>
<rect x="658.5" y="29" width="1.28" height="534" fill="#1a1a1a"/>
<rect x="659.76" y="29" width="1.28" height="534" fill="#222222"/>
<rect x="661.02" y="29" width="1.28" height="534" fill="#272727"/>
<rect x="662.28" y="29" width="1.28" height="534" fill="#242424"/>
<rect x="663.54" y="29" width="1.28" height="534" fill="#171717"/>
<rect x="664.8" y="29" width="2.54" height="534" fill="#1b1b1b"/>
<rect x="667.32" y="29" width="1.28" height="534" fill="#191919"/>
<rect x="668.58" y="29" width="1.28" height="534" fill="#161616"/>
<rect x="669.84" y="29" width="1.28" height="534" fill="#0e0e0e"/>
<rect x="671.1" y="29" width="1.28" height="534" fill="#0f0f0f"/>
<rect x="672.36" y="29" width="1.28" height="534" fill="#0d0d0d"/>
<rect x="673.62" y="29" width="1.28" height="534" fill="#151515"/>
<rect x="674.88" y="29" width="2.54" height="534" fill="#171717"/>
<rect x="677.4" y="29" width="1.28" height="534" fill="#121212"/>
<rect x="678.66" y="29" width="1.28" height="534" fill="#191919"/>
<rect x="679.92" y="29" width="1.28" height="534" fill="#1a1a1a"/>
<rect x="681.18" y="29" width="1.28" height="534" fill="#1d1d1d"/>
<rect x="682.44" y="29" width="1.28" height="534" fill="#171717"/>
<rect x="683.7" y="29" width="1.28" height="534" fill="#121212"/>
<rect x="684.96" y="29" width="1.28" height="534" fill="#0d0d0d"/>
<rect x="686.22" y="29" width="1.28" height="534" fill="#131313"/>
<rect x="687.48" y="29" width="1.28" height="534" fill="#181818"/>
<rect x="688.74" y="29" width="1.28" height="534" fill="#1c1c1c"/>
<rect x="690" y="29" width="1.28" height="534" fill="#202020"/>
<rect x="691.26" y="29" width="1.28" height="534" fill="#1e1e1e"/>
<rect x="692.52" y="29" width="1.28" height="534" fill="#141414"/>
<rect x="693.78" y="29" width="1.28" height="534" fill="#1f1f1f"/>
<rect x="695.04" y="29" width="1.28" height="534" fill="#212121"/>
<rect x="696.3" y="29" width="1.28" height="534" fill="#1e1e1e"/>
<rect x="697.56" y="29" width="1.28" height="534" fill="#1a1a1a"/>
<rect x="698.82" y="29" width="1.28" height="534" fill="#1b1b1b"/>
<rect x="700.08" y="29" width="1.28" height="534" fill="#0d0d0d"/>
<rect x="701.34" y="29" width="1.28" height="534" fill="#151515"/>
<rect x="702.6" y="29" width="1.28" height="534" fill="#1f1f1f"/>
<rect x="703.86" y="29" width="1.28" height="534" fill="#1d1d1d"/>
<rect x="705.12" y="29" width="1.28" height="534" fill="#1f1f1f"/>
<rect x="706.38" y="29" width="1.28" height="534" fill="#202020"/>
<rect x="707.64" y="29" width="1.28" height="534" fill="#1a1a1a"/>
<rect x="708.9" y="29" width="1.28" height="534" fill="#111111"/>
<rect x="710.16" y="29" width="1.28" height="534" fill="#161616"/>
<rect x="711.42" y="29" width="1.28" height="534" fill="#151515"/>
<rect x="712.68" y="29" width="1.28" height="534" fill="#161616"/>
<rect x="713.94" y="29" width="1.28" height="534" fill="#101010"/>
<rect x="715.2" y="29" width="1.28" height="534" fill="#0b0b0b"/>
<rect x="716.46" y="29" width="1.28" height="534" fill="#101010"/>
<rect x="717.72" y="29" width="1.28" height="534" fill="#111111"/>
<rect x="718.98" y="29" width="1.28" height="534" fill="#101010"/>
<rect x="720.24" y="29" width="1.28" height="534" fill="#151515"/>
<rect x="721.5" y="29" width="1.28" height="534" fill="#101010"/>
<rect x="722.76" y="29" width="1.28" height="534" fill="#1d1d1d"/>
<rect x="724.02" y="29" width="1.28" height="534" fill="#171717"/>
<rect x="725.28" y="29" width="1.28" height="534" fill="#1b1b1b"/>
<rect x="726.54" y="29" width="1.28" height="534" fill="#1e1e1e"/>
<rect x="727.8" y="29" width="1.28" height="534" fill="#131313"/>
<rect x="729.06" y="29" width="1.28" height="534" fill="#070707"/>
<rect x="730.32" y="29" width="1.28" height="534" fill="#191919"/>
<rect x="731.58" y="29" width="1.28" height="534" fill="#161616"/>
<rect x="732.84" y="29" width="2.54" height="534" fill="#141414"/>
<rect x="735.36" y="29" width="2.54" height="534" fill="#1f1f1f"/>
<rect x="737.88" y="29" width="1.28" height="534" fill="#202020"/>
<rect x="739.14" y="29" width="1.28" height="534" fill="#1f1f1f"/>
<rect x="740.4" y="29" width="1.28" height="534" fill="#1d1d1d"/>
<rect x="741.66" y="29" width="1.28" height="534" fill="#1b1b1b"/>
<rect x="742.92" y="29" width="1.28" height="534" fill="#121212"/>
<rect x="744.18" y="29" width="1.28" height="534" fill="#101010"/>
<rect x="745.44" y="29" width="1.28" height="534" fill="#0d0d0d"/>
<rect x="746.7" y="29" width="1.28" height="534" fill="#111111"/>
<rect x="747.96" y="29" width="1.28" height="534" fill="#0e0e0e"/>
<rect x="749.22" y="29" width="1.28" height="534" fill="#111111"/>
<rect x="750.48" y="29" width="1.28" height="534" fill="#171717"/>
<rect x="751.74" y="29" width="1.28" height="534" fill="#1c1c1c"/>
<rect x="753" y="29" width="1.28" height="534" fill="#111111"/>
<rect x="754.26" y="29" width="2.54" height="534" fill="#101010"/>
<rect x="756.78" y="29" width="1.28" height="534" fill="#131313"/>
<rect x="758.04" y="29" width="1.28" height="534" fill="#171717"/>
<rect x="759.3" y="29" width="1.28" height="534" fill="#151515"/>
<rect x="760.56" y="29" width="1.28" height="534" fill="#101010"/>
<rect x="761.82" y="29" width="1.28" height="534" fill="#161616"/>
<rect x="763.08" y="29" width="1.28" height="534" fill="#1c1c1c"/>
<rect x="764.34" y="29" width="1.28" height="534" fill="#131313"/>
<rect x="765.6" y="29" width="1.28" height="534" fill="#151515"/>
<rect x="766.86" y="29" width="1.28" height="534" fill="#101010"/>
<rect x="768.12" y="29" width="1.28" height="534" fill="#121212"/>
<rect x="769.38" y="29" width="1.28" height="534" fill="#0a0a0a"/>
<rect x="770.64" y="29" width="1.28" height="534" fill="#101010"/>
<rect x="771.9" y="29" width="1.28" height="534" fill="#0f0f0f"/>
<rect x="773.16" y="29" width="1.28" height="534" fill="#0c0c0c"/>
<rect x="774.42" y="29" width="1.28" height="534" fill="#0a0a0a"/>
<rect x="775.68" y="29" width="1.28" height="534" fill="#0b0b0b"/>
<rect x="776.94" y="29" width="1.28" height="534" fill="#171717"/>
<rect x="778.2" y="29" width="1.28" height="534" fill="#1c1c1c"/>
<rect x="779.46" y="29" width="1.28" height="534" fill="#171717"/>
<rect x="780.72" y="29" width="1.28" height="534" fill="#161616"/>
<rect x="781.98" y="29" width="1.28" height="534" fill="#131313"/>
<rect x="783.24" y="29" width="1.28" height="534" fill="#1b1b1b"/>
<rect x="784.5" y="29" width="1.28" height="534" fill="#222222"/>
<rect x="785.76" y="29" width="1.28" height="534" fill="#262626"/>
<rect x="787.02" y="29" width="1.28" height="534" fill="#222222"/>
<rect x="788.28" y="29" width="1.28" height="534" fill="#232323"/>
<rect x="789.54" y="29" width="1.28" height="534" fill="#2c2c2c"/>
<rect x="790.8" y="29" width="1.28" height="534" fill="#222222"/>
<rect x="792.06" y="29" width="1.28" height="534" fill="#353535"/>
<rect x="793.32" y="29" width="2.54" height="534" fill="#3c3c3c"/>
<rect x="795.84" y="29" width="1.28" height="534" fill="#393939"/>
<rect x="797.1" y="29" width="1.28" height="534" fill="#3e3e3e"/>
<rect x="798.36" y="29" width="1.28" height="534" fill="#404040"/>
<rect x="799.62" y="29" width="1.28" height="534" fill="#3a3a3a"/>
<rect x="800.88" y="29" width="1.28" height="534" fill="#404040"/>
<rect x="802.14" y="29" width="2.54" height="534" fill="#434343"/>
<rect x="804.66" y="29" width="1.28" height="534" fill="#3e3e3e"/>
<rect x="805.92" y="29" width="1.28" height="534" fill="#3f3f3f"/>
<rect x="807.18" y="29" width="1.28" height="534" fill="#404040"/>
<rect x="808.44" y="29" width="1.28" height="534" fill="#3f3f3f"/>
<rect x="809.7" y="29" width="1.28" height="534" fill="#444444"/>
<rect x="810.96" y="29" width="2.54" height="534" fill="#3e3e3e"/>
<rect x="813.48" y="29" width="1.28" height="534" fill="#404040"/>
<rect x="814.74" y="29" width="1.28" height="534" fill="#434343"/>
<rect x="816" y="29" width="1.28" height="534" fill="#444444"/>
<rect x="817.26" y="29" width="1.28" height="534" fill="#454545"/>
<rect x="818.52" y="29" width="1.28" height="534" fill="#484848"/>
<rect x="819.78" y="29" width="2.54" height="534" fill="#494949"/>
<rect x="822.3" y="29" width="1.28" height="534" fill="#464646"/>
<rect x="823.56" y="29" width="1.28" height="534" fill="#454545"/>
<rect x="824.82" y="29" width="1.28" height="534" fill="#424242"/>
<rect x="826.08" y="29" width="1.28" height="534" fill="#414141"/>
<rect x="827.34" y="29" width="1.28" height="534" fill="#404040"/>
<rect x="828.6" y="29" width="1.28" height="534" fill="#464646"/>
<rect x="829.86" y="29" width="1.28" height="534" fill="#3c3c3c"/>
<rect x="831.12" y="29" width="1.28" height="534" fill="#383838"/>
<rect x="832.38" y="29" width="1.28" height="534" fill="#393939"/>
<rect x="833.64" y="29" width="1.28" height="534" fill="#3d3d3d"/>
<rect x="834.9" y="29" width="1.28" height="534" fill="#3a3a3a"/>
<rect x="836.16" y="29" width="1.28" height="534" fill="#3c3c3c"/>
<rect x="837.42" y="29" width="1.28" height="534" fill="#434343"/>
<rect x="838.68" y="29" width="1.28" height="534" fill="#424242"/>
<rect x="839.94" y="29" width="1.28" height="534" fill="#3d3d3d"/>
<rect x="841.2" y="29" width="1.28" height="534" fill="#424242"/>
<rect x="842.46" y="29" width="1.28" height="534" fill="#434343"/>
<rect x="843.72" y="29" width="1.28" height="534" fill="#414141"/>
<rect x="844.98" y="29" width="1.28" height="534" fill="#424242"/>
<rect x="846.24" y="29" width="3.8" height="534" fill="#434343"/>
<rect x="850.02" y="29" width="1.28" height="534" fill="#404040"/>
<rect x="851.28" y="29" width="1.28" height="534" fill="#3d3d3d"/>
<rect x="852.54" y="29" width="1.28" height="534" fill="#3c3c3c"/>
<rect x="853.8" y="29" width="1.28" height="534" fill="#393939"/>
<rect x="855.06" y="29" width="1.28" height="534" fill="#3d3d3d"/>
<rect x="856.32" y="29" width="1.28" height="534" fill="#404040"/>
<rect x="857.58" y="29" width="1.28" height="534" fill="#3e3e3e"/>
<rect x="858.84" y="29" width="1.28" height="534" fill="#434343"/>
<rect x="860.1" y="29" width="1.28" height="534" fill="#444444"/>
<rect x="861.36" y="29" width="1.28" height="534" fill="#464646"/>
<rect x="862.62" y="29" width="1.28" height="534" fill="#454545"/>
<rect x="863.88" y="29" width="1.28" height="534" fill="#434343"/>
<rect x="865.14" y="29" width="1.28" height="534" fill="#414141"/>
<rect x="866.4" y="29" width="1.28" height="534" fill="#444444"/>
<rect x="867.66" y="29" width="1.28" height="534" fill="#454545"/>
<rect x="868.92" y="29" width="1.28" height="534" fill="#464646"/>
<rect x="870.18" y="29" width="1.28" height="534" fill="#484848"/>
<rect x="871.44" y="29" width="1.28" height="534" fill="#4b4b4b"/>
<rect x="872.7" y="29" width="1.28" height="534" fill="#484848"/>
<rect x="873.96" y="29" width="1.28" height="534" fill="#4a4a4a"/>
<rect x="875.22" y="29" width="3.8" height="534" fill="#4b4b4b"/>
<rect x="879" y="29" width="1.28" height="534" fill="#494949"/>
<rect x="880.26" y="29" width="1.28" height="534" fill="#464646"/>
<rect x="881.52" y="29" width="1.28" height="534" fill="#444444"/>
<rect x="882.78" y="29" width="1.28" height="534" fill="#4a4a4a"/>
<rect x="884.04" y="29" width="1.28" height="534" fill="#4b4b4b"/>
<rect x="885.3" y="29" width="1.28" height="534" fill="#474747"/>
<rect x="886.56" y="29" width="2.54" height="534" fill="#494949"/>
<rect x="889.08" y="29" width="1.28" height="534" fill="#474747"/>
<rect x="890.34" y="29" width="1.28" height="534" fill="#464646"/>
<rect x="891.6" y="29" width="1.28" height="534" fill="#424242"/>
<rect x="892.86" y="29" width="1.28" height="534" fill="#434343"/>
<rect x="894.12" y="29" width="1.28" height="534" fill="#3f3f3f"/>
<rect x="895.38" y="29" width="1.28" height="534" fill="#3e3e3e"/>
<rect x="896.64" y="29" width="1.28" height="534" fill="#3d3d3d"/>
<rect x="897.9" y="29" width="1.28" height="534" fill="#3a3a3a"/>
<rect x="899.16" y="29" width="1.28" height="534" fill="#333333"/>
<rect x="900.42" y="29" width="1.28" height="534" fill="#2d2d2d"/>
<rect x="901.68" y="29" width="1.28" height="534" fill="#373737"/>
<rect x="902.94" y="29" width="2.54" height="534" fill="#393939"/>
<rect x="905.46" y="29" width="1.28" height="534" fill="#363636"/>
<rect x="906.72" y="29" width="1.28" height="534" fill="#343434"/>
<rect x="907.98" y="29" width="1.28" height="534" fill="#383838"/>
<rect x="909.24" y="29" width="1.28" height="534" fill="#3c3c3c"/>
<rect x="910.5" y="29" width="1.28" height="534" fill="#3a3a3a"/>
<rect x="911.76" y="29" width="1.28" height="534" fill="#3c3c3c"/>
<rect x="913.02" y="29" width="1.28" height="534" fill="#3d3d3d"/>
<rect x="914.28" y="29" width="1.28" height="534" fill="#3b3b3b"/>
<rect x="915.54" y="29" width="1.28" height="534" fill="#3a3a3a"/>
<rect x="916.8" y="29" width="1.28" height="534" fill="#383838"/>
<rect x="918.06" y="29" width="1.28" height="534" fill="#3c3c3c"/>
<rect x="919.32" y="29" width="1.28" height="534" fill="#3f3f3f"/>
<rect x="920.58" y="29" width="1.28" height="534" fill="#3e3e3e"/>
<rect x="921.84" y="29" width="1.28" height="534" fill="#414141"/>
<rect x="923.1" y="29" width="1.28" height="534" fill="#3b3b3b"/>
<rect x="924.36" y="29" width="1.28" height="534" fill="#404040"/>
<rect x="925.62" y="29" width="1.28" height="534" fill="#414141"/>
<rect x="926.88" y="29" width="1.28" height="534" fill="#424242"/>
<rect x="928.14" y="29" width="1.28" height="534" fill="#434343"/>
<rect x="929.4" y="29" width="1.28" height="534" fill="#404040"/>
<rect x="930.66" y="29" width="1.28" height="534" fill="#3a3a3a"/>
<rect x="931.92" y="29" width="2.54" height="534" fill="#3c3c3c"/>
<rect x="934.44" y="29" width="1.28" height="534" fill="#3f3f3f"/>
<rect x="935.7" y="29" width="1.28" height="534" fill="#414141"/>
<rect x="936.96" y="29" width="1.28" height="534" fill="#3f3f3f"/>
<rect x="938.21" y="29" width="1.28" height="534" fill="#3d3d3d"/>
<rect x="939.47" y="29" width="1.28" height="534" fill="#3f3f3f"/>
<rect x="940.73" y="29" width="1.28" height="534" fill="#3d3d3d"/>
<rect x="941.99" y="29" width="1.28" height="534" fill="#3b3b3b"/>
<rect x="943.25" y="29" width="1.28" height="534" fill="#303030"/>
<rect x="944.51" y="29" width="1.28" height="534" fill="#333333"/>
<rect x="945.77" y="29" width="1.28" height="534" fill="#3b3b3b"/>
<rect x="947.03" y="29" width="1.28" height="534" fill="#353535"/>
<rect x="948.29" y="29" width="1.28" height="534" fill="#313131"/>
<rect x="949.55" y="29" width="1.28" height="534" fill="#383838"/>
<rect x="950.81" y="29" width="1.28" height="534" fill="#393939"/>
<rect x="952.07" y="29" width="1.28" height="534" fill="#383838"/>
<rect x="953.33" y="29" width="1.28" height="534" fill="#313131"/>
<rect x="954.59" y="29" width="2.54" height="534" fill="#323232"/>
<rect x="957.11" y="29" width="1.28" height="534" fill="#363636"/>
<rect x="958.37" y="29" width="1.28" height="534" fill="#353535"/>
<rect x="959.63" y="29" width="1.28" height="534" fill="#333333"/>
<rect x="960.89" y="29" width="2.54" height="534" fill="#303030"/>
<rect x="963.41" y="29" width="1.28" height="534" fill="#353535"/>
<rect x="964.67" y="29" width="1.28" height="534" fill="#2c2c2c"/>
<rect x="965.93" y="29" width="1.28" height="534" fill="#292929"/>
<rect x="967.19" y="29" width="2.54" height="534" fill="#2b2b2b"/>
<rect x="969.71" y="29" width="1.28" height="534" fill="#2e2e2e"/>
<rect x="970.97" y="29" width="1.28" height="534" fill="#313131"/>
<rect x="972.23" y="29" width="1.28" height="534" fill="#2e2e2e"/>
<rect x="973.49" y="29" width="1.28" height="534" fill="#2d2d2d"/>
<rect x="974.75" y="29" width="1.28" height="534" fill="#2c2c2c"/>
<rect x="976.01" y="29" width="1.28" height="534" fill="#2b2b2b"/>
<rect x="977.27" y="29" width="1.28" height="534" fill="#2f2f2f"/>
<rect x="978.53" y="29" width="1.28" height="534" fill="#333333"/>
<rect x="979.79" y="29" width="1.28" height="534" fill="#323232"/>
<rect x="981.05" y="29" width="1.28" height="534" fill="#2c2c2c"/>
<rect x="982.31" y="29" width="1.28" height="534" fill="#343434"/>
<rect x="983.57" y="29" width="1.28" height="534" fill="#333333"/>
<rect x="984.83" y="29" width="1.28" height="534" fill="#303030"/>
<rect x="986.09" y="29" width="1.28" height="534" fill="#2d2d2d"/>
<rect x="987.35" y="29" width="1.28" height="534" fill="#2c2c2c"/>
<rect x="988.61" y="29" width="1.28" height="534" fill="#2b2b2b"/>
<rect x="989.87" y="29" width="1.28" height="534" fill="#2c2c2c"/>
<rect x="991.13" y="29" width="1.28" height="534" fill="#242424"/>
<rect x="992.39" y="29" width="1.28" height="534" fill="#2d2d2d"/>
<rect x="993.65" y="29" width="1.28" height="534" fill="#353535"/>
<rect x="994.91" y="29" width="1.28" height="534" fill="#323232"/>
<rect x="996.17" y="29" width="1.28" height="534" fill="#3f3f3f"/>
<rect x="997.43" y="29" width="1.28" height="534" fill="#424242"/>
<rect x="998.69" y="29" width="1.28" height="534" fill="#454545"/>
<rect x="999.95" y="29" width="1.28" height="534" fill="#444444"/>
<rect x="1001.21" y="29" width="1.28" height="534" fill="#424242"/>
<rect x="1002.47" y="29" width="2.54" height="534" fill="#3b3b3b"/>
<rect x="1004.99" y="29" width="2.54" height="534" fill="#343434"/>
<rect x="1007.51" y="29" width="1.28" height="534" fill="#313131"/>
<rect x="1008.77" y="29" width="1.28" height="534" fill="#333333"/>
<rect x="1010.03" y="29" width="1.28" height="534" fill="#323232"/>
<rect x="1011.29" y="29" width="1.28" height="534" fill="#2d2d2d"/>
<rect x="1012.55" y="29" width="1.28" height="534" fill="#282828"/>
<rect x="1013.81" y="29" width="1.28" height="534" fill="#292929"/>
<rect x="1015.07" y="29" width="1.28" height="534" fill="#242424"/>
<rect x="1016.33" y="29" width="1.28" height="534" fill="#1b1b1b"/>
<rect x="1017.59" y="29" width="1.28" height="534" fill="#222222"/>
<rect x="1018.85" y="29" width="1.28" height="534" fill="#272727"/>
<rect x="1020.11" y="29" width="1.28" height="534" fill="#1f1f1f"/>
<rect x="1021.37" y="29" width="1.28" height="534" fill="#191919"/>
<rect x="1022.63" y="29" width="1.28" height="534" fill="#131313"/>
<rect x="1023.89" y="29" width="1.28" height="534" fill="#0e0e0e"/>
<rect x="1025.15" y="29" width="1.28" height="534" fill="#060606"/>
<rect x="1026.41" y="29" width="1.28" height="534" fill="#0b0b0b"/>
<rect x="1027.67" y="29" width="1.28" height="534" fill="#111111"/>
<rect x="1028.93" y="29" width="1.28" height="534" fill="#010101"/>
<rect x="1030.19" y="29" width="1.28" height="534" fill="#111111"/>
<rect x="1031.45" y="29" width="1.28" height="534" fill="#080808"/>
<rect x="1032.71" y="29" width="1.28" height="534" fill="#090909"/>
<rect x="1033.97" y="29" width="1.28" height="534" fill="#101010"/>
<rect x="1035.23" y="29" width="1.28" height="534" fill="#111111"/>
<rect x="1036.49" y="29" width="1.28" height="534" fill="#171717"/>
<rect x="1037.75" y="29" width="1.28" height="534" fill="#111111"/>
<rect x="1039.01" y="29" width="1.28" height="534" fill="#161616"/>
<rect x="1040.27" y="29" width="1.28" height="534" fill="#202020"/>
<rect x="1041.53" y="29" width="1.28" height="534" fill="#232323"/>
<rect x="1042.79" y="29" width="1.28" height="534" fill="#272727"/>
<rect x="1044.05" y="29" width="1.28" height="534" fill="#191919"/>
<rect x="1045.31" y="29" width="1.28" height="534" fill="#1c1c1c"/>
<rect x="1046.57" y="29" width="1.28" height="534" fill="#1a1a1a"/>
<rect x="1047.83" y="29" width="1.28" height="534" fill="#151515"/>
<rect x="1049.09" y="29" width="1.28" height="534" fill="#1a1a1a"/>
<rect x="1050.35" y="29" width="1.28" height="534" fill="#272727"/>
<rect x="1051.61" y="29" width="2.54" height="534" fill="#252525"/>
<rect x="1054.13" y="29" width="1.28" height="534" fill="#202020"/>
<rect x="1055.39" y="29" width="1.28" height="534" fill="#1b1b1b"/>
<rect x="1056.65" y="29" width="1.28" height="534" fill="#1e1e1e"/>
<rect x="1057.91" y="29" width="1.28" height="534" fill="#1f1f1f"/>
<rect x="1059.17" y="29" width="1.28" height="534" fill="#1e1e1e"/>
<rect x="1060.43" y="29" width="1.28" height="534" fill="#252525"/>
<rect x="1061.69" y="29" width="1.28" height="534" fill="#262626"/>
<rect x="1062.95" y="29" width="1.28" height="534" fill="#2c2c2c"/>
<rect x="1064.21" y="29" width="1.28" height="534" fill="#292929"/>
<rect x="1065.47" y="29" width="1.28" height="534" fill="#2a2a2a"/>
<rect x="1066.73" y="29" width="1.28" height="534" fill="#2d2d2d"/>
<rect x="1067.99" y="29" width="1.28" height="534" fill="#313131"/>
<rect x="1069.25" y="29" width="1.28" height="534" fill="#2a2a2a"/>
<rect x="1070.51" y="29" width="1.28" height="534" fill="#232323"/>
<rect x="1071.77" y="29" width="2.54" height="534" fill="#242424"/>
<rect x="1074.29" y="29" width="1.28" height="534" fill="#191919"/>
<rect x="1075.55" y="29" width="1.28" height="534" fill="#1c1c1c"/>
<rect x="1076.81" y="29" width="1.28" height="534" fill="#191919"/>
<rect x="1078.07" y="29" width="1.28" height="534" fill="#141414"/>
<rect x="1079.33" y="29" width="2.54" height="534" fill="#0d0d0d"/>
<rect x="1081.85" y="29" width="1.28" height="534" fill="#0e0e0e"/>
<rect x="1083.11" y="29" width="1.28" height="534" fill="#191919"/>
<rect x="1084.37" y="29" width="1.28" height="534" fill="#2a2a2a"/>
<rect x="1085.63" y="29" width="1.28" height="534" fill="#222222"/>
<rect x="1086.89" y="29" width="2.54" height="534" fill="#171717"/>
<rect x="1089.41" y="29" width="1.28" height="534" fill="#121212"/>
<rect x="1090.67" y="29" width="1.28" height="534" fill="#0d0d0d"/>
<rect x="1091.93" y="29" width="1.28" height="534" fill="#1b1b1b"/>
<rect x="1093.19" y="29" width="1.28" height="534" fill="#202020"/>
<rect x="1094.45" y="29" width="2.54" height="534" fill="#212121"/>
<rect x="1096.97" y="29" width="1.28" height="534" fill="#171717"/>
<rect x="1098.23" y="29" width="1.28" height="534" fill="#151515"/>
<rect x="1099.49" y="29" width="1.28" height="534" fill="#141414"/>
<rect x="1100.75" y="29" width="1.28" height="534" fill="#131313"/>
<rect x="1102.01" y="29" width="1.28" height="534" fill="#191919"/>
<rect x="1103.27" y="29" width="1.28" height="534" fill="#121212"/>
<rect x="1104.53" y="29" width="1.28" height="534" fill="#171717"/>
<rect x="1192.78" y="558.45" width="1013.01" height="2.55" fill="#040404"/>
<rect x="1192.78" y="555.91" width="1013.01" height="2.55" fill="#030303"/>
<rect x="1192.78" y="553.36" width="1013.01" height="2.55" fill="#030303"/>
<rect x="1192.78" y="550.82" width="1013.01" height="2.55" fill="#070707"/>
<rect x="1192.78" y="548.27" width="1013.01" height="2.55" fill="#020202"/>
<rect x="1192.78" y="545.73" width="1013.01" height="2.55" fill="#020202"/>
<rect x="1192.78" y="543.18" width="1013.01" height="2.55" fill="#030303"/>
<rect x="1192.78" y="540.64" width="1013.01" height="2.55" fill="#050505"/>
<rect x="1192.78" y="538.09" width="1013.01" height="2.55" fill="#030303"/>
<rect x="1192.78" y="535.55" width="1013.01" height="2.55" fill="#020202"/>
<rect x="1192.78" y="533" width="1013.01" height="2.55" fill="#020202"/>
<rect x="1192.78" y="530.45" width="16.38" height="2.55" fill="#323232"/>
<rect x="1216.72" y="530.45" width="11.34" height="2.55" fill="#323232"/>
<rect x="1292.32" y="530.45" width="1.26" height="2.55" fill="#323232"/>
<rect x="1332.64" y="530.45" width="3.78" height="2.55" fill="#323232"/>
<rect x="1350.28" y="530.45" width="236.87" height="2.55" fill="#323232"/>
<rect x="1587.15" y="530.45" width="176.39" height="2.55" fill="#252525"/>
<rect x="1209.16" y="527.91" width="7.56" height="2.55" fill="#323232"/>
<rect x="1228.06" y="527.91" width="64.26" height="2.55" fill="#323232"/>
<rect x="1293.58" y="527.91" width="39.06" height="2.55" fill="#323232"/>
<rect x="1336.42" y="527.91" width="13.86" height="2.55" fill="#323232"/>
<rect x="1763.54" y="527.91" width="128.52" height="2.55" fill="#252525"/>
<rect x="1892.06" y="527.91" width="313.73" height="2.55" fill="#2a2a2a"/>
<rect x="1192.78" y="525.36" width="1013.01" height="2.55" fill="#030303"/>
<rect x="1192.78" y="522.82" width="1013.01" height="2.55" fill="#030303"/>
<rect x="1192.78" y="520.27" width="1013.01" height="2.55" fill="#030303"/>
<rect x="1192.78" y="517.73" width="1013.01" height="2.55" fill="#030303"/>
<rect x="1192.78" y="515.18" width="394.37" height="2.55" fill="#131313"/>
<rect x="1587.15" y="515.18" width="304.91" height="2.55" fill="#050505"/>
<rect x="1892.06" y="515.18" width="313.73" height="2.55" fill="#101010"/>
<rect x="1192.78" y="512.64" width="1013.01" height="2.55" fill="#020202"/>
<rect x="1587.15" y="510.09" width="15.12" height="2.55" fill="#303030"/>
<rect x="1617.39" y="510.09" width="274.67" height="2.55" fill="#2f2f2f"/>
<rect x="1192.78" y="507.55" width="1013.01" height="2.55" fill="#020202"/>
<rect x="1192.78" y="505" width="1013.01" height="2.55" fill="#010101"/>
<rect x="1192.78" y="502.45" width="1013.01" height="2.55" fill="#020202"/>
<rect x="1192.78" y="499.91" width="1013.01" height="2.55" fill="#040404"/>
<rect x="1192.78" y="497.36" width="1013.01" height="2.55" fill="#040404"/>
<rect x="1192.78" y="494.82" width="1013.01" height="2.55" fill="#030303"/>
<rect x="1192.78" y="492.27" width="1013.01" height="2.55" fill="#020202"/>
<rect x="1192.78" y="487.18" width="1013.01" height="2.55" fill="#020202"/>
<rect x="1192.78" y="484.64" width="394.37" height="2.55" fill="#b1b1b1"/>
<rect x="1587.15" y="484.64" width="15.12" height="2.55" fill="#626262"/>
<rect x="1602.27" y="484.64" width="15.12" height="2.55" fill="#999999"/>
<rect x="1617.39" y="484.64" width="274.67" height="2.55" fill="#888888"/>
<rect x="1892.06" y="484.64" width="20.16" height="2.55" fill="#636363"/>
<rect x="1912.22" y="484.64" width="293.57" height="2.55" fill="#999999"/>
<rect x="1192.78" y="479.55" width="1013.01" height="2.55" fill="#030303"/>
<rect x="1192.78" y="477" width="1013.01" height="2.55" fill="#040404"/>
<rect x="1192.78" y="474.45" width="1013.01" height="2.55" fill="#030303"/>
<rect x="1192.78" y="471.91" width="1013.01" height="2.55" fill="#020202"/>
<rect x="1192.78" y="469.36" width="1013.01" height="2.55" fill="#020202"/>
<rect x="1192.78" y="466.82" width="1013.01" height="2.55" fill="#060606"/>
<rect x="1192.78" y="464.27" width="1013.01" height="2.55" fill="#020202"/>
<rect x="1192.78" y="461.73" width="1013.01" height="2.55" fill="#020202"/>
<rect x="1192.78" y="459.18" width="1013.01" height="2.55" fill="#010101"/>
<rect x="1192.78" y="456.64" width="1013.01" height="2.55" fill="#040404"/>
<rect x="1192.78" y="451.55" width="1013.01" height="2.55" fill="#040404"/>
<rect x="1192.78" y="449" width="1013.01" height="2.55" fill="#020202"/>
<rect x="1192.78" y="446.45" width="1013.01" height="2.55" fill="#060606"/>
<rect x="1192.78" y="441.36" width="394.37" height="2.55" fill="#1d1d1d"/>
<rect x="1587.15" y="441.36" width="304.91" height="2.55" fill="#151515"/>
<rect x="1892.06" y="441.36" width="313.73" height="2.55" fill="#181818"/>
<rect x="1192.78" y="423.55" width="1013.01" height="2.55" fill="#010101"/>
<rect x="1192.78" y="415.91" width="1013.01" height="2.55" fill="#010101"/>
<rect x="1192.78" y="413.36" width="1013.01" height="2.55" fill="#030303"/>
<rect x="1192.78" y="410.82" width="1013.01" height="2.55" fill="#020202"/>
<rect x="1192.78" y="408.27" width="1013.01" height="2.55" fill="#040404"/>
<rect x="1192.78" y="405.73" width="1013.01" height="2.55" fill="#030303"/>
<rect x="1192.78" y="403.18" width="1013.01" height="2.55" fill="#010101"/>
<rect x="1192.78" y="400.64" width="1013.01" height="2.55" fill="#010101"/>
<rect x="1192.78" y="398.09" width="1013.01" height="2.55" fill="#020202"/>
<rect x="1192.78" y="395.55" width="394.37" height="2.55" fill="#313131"/>
<rect x="1587.15" y="395.55" width="304.91" height="2.55" fill="#242424"/>
<rect x="1892.06" y="395.55" width="313.73" height="2.55" fill="#292929"/>
<rect x="1192.78" y="390.45" width="1013.01" height="2.55" fill="#010101"/>
<rect x="1192.78" y="387.91" width="1013.01" height="2.55" fill="#030303"/>
<rect x="1192.78" y="382.82" width="394.37" height="2.55" fill="#131313"/>
<rect x="1587.15" y="382.82" width="618.64" height="2.55" fill="#0f0f0f"/>
<rect x="1192.78" y="380.27" width="1013.01" height="2.55" fill="#020202"/>
<rect x="1192.78" y="377.73" width="1013.01" height="2.55" fill="#010101"/>
<rect x="1192.78" y="375.18" width="1013.01" height="2.55" fill="#030303"/>
<rect x="1192.78" y="372.64" width="1013.01" height="2.55" fill="#030303"/>
<rect x="1192.78" y="370.09" width="1013.01" height="2.55" fill="#040404"/>
<rect x="1192.78" y="367.55" width="1013.01" height="2.55" fill="#020202"/>
<rect x="1192.78" y="365" width="1013.01" height="2.55" fill="#040404"/>
<rect x="1192.78" y="362.45" width="1013.01" height="2.55" fill="#010101"/>
<rect x="1192.78" y="359.91" width="1013.01" height="2.55" fill="#040404"/>
<rect x="1192.78" y="357.36" width="1013.01" height="2.55" fill="#020202"/>
<rect x="1192.78" y="354.82" width="1013.01" height="2.55" fill="#010101"/>
<rect x="1192.78" y="352.27" width="1013.01" height="2.55" fill="#010101"/>
<rect x="1192.78" y="347.18" width="1013.01" height="2.55" fill="#020202"/>
<rect x="1192.78" y="342.09" width="1013.01" height="2.55" fill="#020202"/>
<rect x="1192.78" y="324.27" width="1013.01" height="2.55" fill="#040404"/>
<rect x="1192.78" y="321.73" width="1013.01" height="2.55" fill="#020202"/>
<rect x="1587.15" y="319.18" width="15.12" height="2.55" fill="#303030"/>
<rect x="1617.39" y="319.18" width="274.67" height="2.55" fill="#2f2f2f"/>
<rect x="1192.78" y="316.64" width="1013.01" height="2.55" fill="#010101"/>
<rect x="1192.78" y="309" width="1013.01" height="2.55" fill="#050505"/>
<rect x="1192.78" y="306.45" width="394.37" height="2.55" fill="#c0c0c0"/>
<rect x="1587.15" y="306.45" width="15.12" height="2.55" fill="#6b6b6b"/>
<rect x="1602.27" y="306.45" width="15.12" height="2.55" fill="#a6a6a6"/>
<rect x="1617.39" y="306.45" width="274.67" height="2.55" fill="#949494"/>
<rect x="1892.06" y="306.45" width="20.16" height="2.55" fill="#6b6b6b"/>
<rect x="1912.22" y="306.45" width="293.57" height="2.55" fill="#a6a6a6"/>
<rect x="1192.78" y="303.91" width="1013.01" height="2.55" fill="#010101"/>
<rect x="1192.78" y="298.82" width="1013.01" height="2.55" fill="#010101"/>
<rect x="1192.78" y="293.73" width="1013.01" height="2.55" fill="#020202"/>
<rect x="1192.78" y="286.09" width="1013.01" height="2.55" fill="#020202"/>
<rect x="1192.78" y="281" width="1013.01" height="2.55" fill="#020202"/>
<rect x="1192.78" y="275.91" width="394.37" height="2.55" fill="#151515"/>
<rect x="1587.15" y="275.91" width="618.64" height="2.55" fill="#101010"/>
<rect x="1192.78" y="270.82" width="1013.01" height="2.55" fill="#030303"/>
<rect x="1192.78" y="268.27" width="1013.01" height="2.55" fill="#010101"/>
<rect x="1192.78" y="265.73" width="1013.01" height="2.55" fill="#020202"/>
<rect x="1192.78" y="263.18" width="394.37" height="2.55" fill="#e1e1e1"/>
<rect x="1587.15" y="263.18" width="15.12" height="2.55" fill="#7f7f7f"/>
<rect x="1602.27" y="263.18" width="15.12" height="2.55" fill="#c3c3c3"/>
<rect x="1617.39" y="263.18" width="274.67" height="2.55" fill="#aeaeae"/>
<rect x="1892.06" y="263.18" width="20.16" height="2.55" fill="#7f7f7f"/>
<rect x="1912.22" y="263.18" width="293.57" height="2.55" fill="#c4c4c4"/>
<rect x="1192.78" y="260.64" width="989.07" height="2.55" fill="#030303"/>
<rect x="2181.85" y="260.64" width="23.94" height="2.55" fill="#060606"/>
<rect x="1192.78" y="258.09" width="938.67" height="2.55" fill="#030303"/>
<rect x="2131.45" y="258.09" width="25.2" height="2.55" fill="#050505"/>
<rect x="2156.65" y="258.09" width="25.2" height="2.55" fill="#070707"/>
<rect x="2181.85" y="258.09" width="23.94" height="2.55" fill="#0a0a0a"/>
<rect x="1192.78" y="255.55" width="875.67" height="2.55" fill="#030303"/>
<rect x="2068.45" y="255.55" width="25.2" height="2.55" fill="#050505"/>
<rect x="2093.65" y="255.55" width="37.8" height="2.55" fill="#060606"/>
<rect x="2131.45" y="255.55" width="25.2" height="2.55" fill="#080808"/>
<rect x="2156.65" y="255.55" width="6.3" height="2.55" fill="#0c0c0c"/>
<rect x="2162.95" y="255.55" width="18.9" height="2.55" fill="#090909"/>
<rect x="2181.85" y="255.55" width="23.94" height="2.55" fill="#0e0e0e"/>
<rect x="1192.78" y="253" width="806.38" height="2.55" fill="#030303"/>
<rect x="1999.16" y="253" width="37.8" height="2.55" fill="#050505"/>
<rect x="2036.95" y="253" width="31.5" height="2.55" fill="#060606"/>
<rect x="2068.45" y="253" width="6.3" height="2.55" fill="#090909"/>
<rect x="2074.75" y="253" width="6.3" height="2.55" fill="#060606"/>
<rect x="2081.05" y="253" width="12.6" height="2.55" fill="#080808"/>
<rect x="2093.65" y="253" width="25.2" height="2.55" fill="#090909"/>
<rect x="2118.85" y="253" width="12.6" height="2.55" fill="#0b0b0b"/>
<rect x="2131.45" y="253" width="25.2" height="2.55" fill="#0d0d0d"/>
<rect x="2156.65" y="253" width="25.2" height="2.55" fill="#0e0e0e"/>
<rect x="2181.85" y="253" width="23.94" height="2.55" fill="#101010"/>
<rect x="1192.78" y="250.45" width="705.58" height="2.55" fill="#030303"/>
<rect x="1898.36" y="250.45" width="44.1" height="2.55" fill="#050505"/>
<rect x="1942.46" y="250.45" width="56.7" height="2.55" fill="#060606"/>
<rect x="1999.16" y="250.45" width="18.9" height="2.55" fill="#090909"/>
<rect x="2018.06" y="250.45" width="18.9" height="2.55" fill="#070707"/>
<rect x="2036.95" y="250.45" width="25.2" height="2.55" fill="#090909"/>
<rect x="2062.15" y="250.45" width="12.6" height="2.55" fill="#0c0c0c"/>
<rect x="2074.75" y="250.45" width="6.3" height="2.55" fill="#090909"/>
<rect x="2081.05" y="250.45" width="12.6" height="2.55" fill="#0c0c0c"/>
<rect x="2093.65" y="250.45" width="25.2" height="2.55" fill="#0d0d0d"/>
<rect x="2118.85" y="250.45" width="86.94" height="2.55" fill="#0f0f0f"/>
<rect x="1192.78" y="247.91" width="629.98" height="2.55" fill="#040404"/>
<rect x="1822.76" y="247.91" width="37.8" height="2.55" fill="#050505"/>
<rect x="1860.56" y="247.91" width="37.8" height="2.55" fill="#060606"/>
<rect x="1898.36" y="247.91" width="18.9" height="2.55" fill="#090909"/>
<rect x="1917.26" y="247.91" width="12.6" height="2.55" fill="#070707"/>
<rect x="1929.86" y="247.91" width="25.2" height="2.55" fill="#0a0a0a"/>
<rect x="1955.06" y="247.91" width="18.9" height="2.55" fill="#090909"/>
<rect x="1973.96" y="247.91" width="12.6" height="2.55" fill="#0a0a0a"/>
<rect x="1986.56" y="247.91" width="6.3" height="2.55" fill="#070707"/>
<rect x="1992.86" y="247.91" width="18.9" height="2.55" fill="#0c0c0c"/>
<rect x="2011.76" y="247.91" width="6.3" height="2.55" fill="#0e0e0e"/>
<rect x="2018.06" y="247.91" width="18.9" height="2.55" fill="#0b0b0b"/>
<rect x="2036.95" y="247.91" width="25.2" height="2.55" fill="#0d0d0d"/>
<rect x="2062.15" y="247.91" width="31.5" height="2.55" fill="#0f0f0f"/>
<rect x="2093.65" y="247.91" width="88.2" height="2.55" fill="#0f0f0f"/>
<rect x="2181.85" y="247.91" width="23.94" height="2.55" fill="#0c0c0c"/>
<rect x="1192.78" y="245.36" width="550.6" height="2.55" fill="#040404"/>
<rect x="1743.38" y="245.36" width="60.48" height="2.55" fill="#050505"/>
<rect x="1803.86" y="245.36" width="56.7" height="2.55" fill="#070707"/>
<rect x="1860.56" y="245.36" width="12.6" height="2.55" fill="#0a0a0a"/>
<rect x="1873.16" y="245.36" width="18.9" height="2.55" fill="#080808"/>
<rect x="1892.06" y="245.36" width="25.2" height="2.55" fill="#0d0d0d"/>
<rect x="1917.26" y="245.36" width="12.6" height="2.55" fill="#0b0b0b"/>
<rect x="1929.86" y="245.36" width="25.2" height="2.55" fill="#0e0e0e"/>
<rect x="1955.06" y="245.36" width="18.9" height="2.55" fill="#0d0d0d"/>
<rect x="1973.96" y="245.36" width="12.6" height="2.55" fill="#0e0e0e"/>
<rect x="1986.56" y="245.36" width="6.3" height="2.55" fill="#0c0c0c"/>
<rect x="1992.86" y="245.36" width="25.2" height="2.55" fill="#101010"/>
<rect x="2018.06" y="245.36" width="18.9" height="2.55" fill="#0f0f0f"/>
<rect x="2036.95" y="245.36" width="94.5" height="2.55" fill="#101010"/>
<rect x="2131.45" y="245.36" width="25.2" height="2.55" fill="#0d0d0d"/>
<rect x="2156.65" y="245.36" width="6.3" height="2.55" fill="#0a0a0a"/>
<rect x="2162.95" y="245.36" width="18.9" height="2.55" fill="#0d0d0d"/>
<rect x="2181.85" y="245.36" width="23.94" height="2.55" fill="#080808"/>
<rect x="1192.78" y="242.82" width="472.49" height="2.55" fill="#030303"/>
<rect x="1665.27" y="242.82" width="75.6" height="2.55" fill="#060606"/>
<rect x="1740.86" y="242.82" width="56.7" height="2.55" fill="#070707"/>
<rect x="1797.56" y="242.82" width="18.9" height="2.55" fill="#0a0a0a"/>
<rect x="1816.46" y="242.82" width="25.2" height="2.55" fill="#0b0b0b"/>
<rect x="1841.66" y="242.82" width="18.9" height="2.55" fill="#0b0b0b"/>
<rect x="1860.56" y="242.82" width="12.6" height="2.55" fill="#0d0d0d"/>
<rect x="1873.16" y="242.82" width="18.9" height="2.55" fill="#0c0c0c"/>
<rect x="1892.06" y="242.82" width="176.39" height="2.55" fill="#0f0f0f"/>
<rect x="2068.45" y="242.82" width="6.3" height="2.55" fill="#0d0d0d"/>
<rect x="2074.75" y="242.82" width="18.9" height="2.55" fill="#0f0f0f"/>
<rect x="2093.65" y="242.82" width="25.2" height="2.55" fill="#0d0d0d"/>
<rect x="2118.85" y="242.82" width="12.6" height="2.55" fill="#0b0b0b"/>
<rect x="2131.45" y="242.82" width="25.2" height="2.55" fill="#090909"/>
<rect x="2156.65" y="242.82" width="6.3" height="2.55" fill="#060606"/>
<rect x="2162.95" y="242.82" width="18.9" height="2.55" fill="#090909"/>
<rect x="2181.85" y="242.82" width="23.94" height="2.55" fill="#050505"/>
<rect x="1192.78" y="240.27" width="25.2" height="2.55" fill="#050505"/>
<rect x="1217.98" y="240.27" width="12.6" height="2.55" fill="#020202"/>
<rect x="1230.58" y="240.27" width="18.9" height="2.55" fill="#070707"/>
<rect x="1249.48" y="240.27" width="6.3" height="2.55" fill="#050505"/>
<rect x="1255.78" y="240.27" width="6.3" height="2.55" fill="#080808"/>
<rect x="1262.08" y="240.27" width="346.49" height="2.55" fill="#040404"/>
<rect x="1608.57" y="240.27" width="56.7" height="2.55" fill="#060606"/>
<rect x="1665.27" y="240.27" width="50.4" height="2.55" fill="#0a0a0a"/>
<rect x="1715.66" y="240.27" width="25.2" height="2.55" fill="#090909"/>
<rect x="1740.86" y="240.27" width="6.3" height="2.55" fill="#0c0c0c"/>
<rect x="1747.16" y="240.27" width="18.9" height="2.55" fill="#0a0a0a"/>
<rect x="1766.06" y="240.27" width="37.8" height="2.55" fill="#0c0c0c"/>
<rect x="1803.86" y="240.27" width="88.2" height="2.55" fill="#0e0e0e"/>
<rect x="1892.06" y="240.27" width="107.1" height="2.55" fill="#101010"/>
<rect x="1999.16" y="240.27" width="18.9" height="2.55" fill="#0d0d0d"/>
<rect x="2018.06" y="240.27" width="18.9" height="2.55" fill="#0f0f0f"/>
<rect x="2036.95" y="240.27" width="25.2" height="2.55" fill="#0d0d0d"/>
<rect x="2062.15" y="240.27" width="12.6" height="2.55" fill="#0a0a0a"/>
<rect x="2074.75" y="240.27" width="6.3" height="2.55" fill="#0d0d0d"/>
<rect x="2081.05" y="240.27" width="12.6" height="2.55" fill="#0a0a0a"/>
<rect x="2093.65" y="240.27" width="25.2" height="2.55" fill="#090909"/>
<rect x="2118.85" y="240.27" width="37.8" height="2.55" fill="#060606"/>
<rect x="2156.65" y="240.27" width="31.5" height="2.55" fill="#050505"/>
<rect x="2188.15" y="240.27" width="17.64" height="2.55" fill="#030303"/>
<rect x="1192.78" y="237.73" width="12.6" height="2.55" fill="#0b0b0b"/>
<rect x="1205.38" y="237.73" width="6.3" height="2.55" fill="#111111"/>
<rect x="1211.68" y="237.73" width="6.3" height="2.55" fill="#0d0d0d"/>
<rect x="1217.98" y="237.73" width="12.6" height="2.55" fill="#070707"/>
<rect x="1230.58" y="237.73" width="12.6" height="2.55" fill="#131313"/>
<rect x="1243.18" y="237.73" width="6.3" height="2.55" fill="#151515"/>
<rect x="1249.48" y="237.73" width="6.3" height="2.55" fill="#0d0d0d"/>
<rect x="1255.78" y="237.73" width="6.3" height="2.55" fill="#161616"/>
<rect x="1262.08" y="237.73" width="6.3" height="2.55" fill="#0d0d0d"/>
<rect x="1268.38" y="237.73" width="6.3" height="2.55" fill="#090909"/>
<rect x="1274.68" y="237.73" width="6.3" height="2.55" fill="#0e0e0e"/>
<rect x="1280.98" y="237.73" width="12.6" height="2.55" fill="#070707"/>
<rect x="1293.58" y="237.73" width="6.3" height="2.55" fill="#0f0f0f"/>
<rect x="1299.88" y="237.73" width="25.2" height="2.55" fill="#070707"/>
<rect x="1325.08" y="237.73" width="18.9" height="2.55" fill="#050505"/>
<rect x="1343.98" y="237.73" width="245.69" height="2.55" fill="#030303"/>
<rect x="1589.67" y="237.73" width="18.9" height="2.55" fill="#070707"/>
<rect x="1608.57" y="237.73" width="12.6" height="2.55" fill="#0a0a0a"/>
<rect x="1621.17" y="237.73" width="6.3" height="2.55" fill="#070707"/>
<rect x="1627.47" y="237.73" width="37.8" height="2.55" fill="#0a0a0a"/>
<rect x="1665.27" y="237.73" width="75.6" height="2.55" fill="#0d0d0d"/>
<rect x="1740.86" y="237.73" width="176.39" height="2.55" fill="#0e0e0e"/>
<rect x="1917.26" y="237.73" width="12.6" height="2.55" fill="#0f0f0f"/>
<rect x="1929.86" y="237.73" width="25.2" height="2.55" fill="#0c0c0c"/>
<rect x="1955.06" y="237.73" width="18.9" height="2.55" fill="#0e0e0e"/>
<rect x="1973.96" y="237.73" width="12.6" height="2.55" fill="#0c0c0c"/>
<rect x="1986.56" y="237.73" width="6.3" height="2.55" fill="#0f0f0f"/>
<rect x="1992.86" y="237.73" width="18.9" height="2.55" fill="#0a0a0a"/>
<rect x="2011.76" y="237.73" width="6.3" height="2.55" fill="#080808"/>
<rect x="2018.06" y="237.73" width="18.9" height="2.55" fill="#0c0c0c"/>
<rect x="2036.95" y="237.73" width="25.2" height="2.55" fill="#090909"/>
<rect x="2062.15" y="237.73" width="12.6" height="2.55" fill="#060606"/>
<rect x="2074.75" y="237.73" width="6.3" height="2.55" fill="#090909"/>
<rect x="2081.05" y="237.73" width="37.8" height="2.55" fill="#060606"/>
<rect x="2118.85" y="237.73" width="86.94" height="2.55" fill="#040404"/>
<rect x="1192.78" y="235.18" width="6.3" height="2.55" fill="#1b1b1b"/>
<rect x="1199.08" y="235.18" width="6.3" height="2.55" fill="#181818"/>
<rect x="1205.38" y="235.18" width="6.3" height="2.55" fill="#202020"/>
<rect x="1211.68" y="235.18" width="6.3" height="2.55" fill="#1c1c1c"/>
<rect x="1217.98" y="235.18" width="12.6" height="2.55" fill="#131313"/>
<rect x="1230.58" y="235.18" width="18.9" height="2.55" fill="#222222"/>
<rect x="1249.48" y="235.18" width="6.3" height="2.55" fill="#1d1d1d"/>
<rect x="1255.78" y="235.18" width="6.3" height="2.55" fill="#232323"/>
<rect x="1262.08" y="235.18" width="6.3" height="2.55" fill="#1c1c1c"/>
<rect x="1268.38" y="235.18" width="6.3" height="2.55" fill="#171717"/>
<rect x="1274.68" y="235.18" width="6.3" height="2.55" fill="#1d1d1d"/>
<rect x="1280.98" y="235.18" width="12.6" height="2.55" fill="#131313"/>
<rect x="1293.58" y="235.18" width="6.3" height="2.55" fill="#1e1e1e"/>
<rect x="1299.88" y="235.18" width="6.3" height="2.55" fill="#111111"/>
<rect x="1306.18" y="235.18" width="6.3" height="2.55" fill="#161616"/>
<rect x="1312.48" y="235.18" width="12.6" height="2.55" fill="#121212"/>
<rect x="1325.08" y="235.18" width="12.6" height="2.55" fill="#0b0b0b"/>
<rect x="1337.68" y="235.18" width="6.3" height="2.55" fill="#101010"/>
<rect x="1343.98" y="235.18" width="6.3" height="2.55" fill="#090909"/>
<rect x="1350.28" y="235.18" width="6.3" height="2.55" fill="#050505"/>
<rect x="1356.58" y="235.18" width="18.9" height="2.55" fill="#090909"/>
<rect x="1375.47" y="235.18" width="37.8" height="2.55" fill="#040404"/>
<rect x="1413.27" y="235.18" width="6.3" height="2.55" fill="#070707"/>
<rect x="1419.57" y="235.18" width="56.7" height="2.55" fill="#050505"/>
<rect x="1476.27" y="235.18" width="31.5" height="2.55" fill="#040404"/>
<rect x="1507.77" y="235.18" width="37.8" height="2.55" fill="#050505"/>
<rect x="1545.57" y="235.18" width="37.8" height="2.55" fill="#040404"/>
<rect x="1583.37" y="235.18" width="12.6" height="2.55" fill="#080808"/>
<rect x="1595.97" y="235.18" width="25.2" height="2.55" fill="#0d0d0d"/>
<rect x="1621.17" y="235.18" width="6.3" height="2.55" fill="#0a0a0a"/>
<rect x="1627.47" y="235.18" width="188.99" height="2.55" fill="#0e0e0e"/>
<rect x="1816.46" y="235.18" width="44.1" height="2.55" fill="#0c0c0c"/>
<rect x="1860.56" y="235.18" width="12.6" height="2.55" fill="#0a0a0a"/>
<rect x="1873.16" y="235.18" width="25.2" height="2.55" fill="#0b0b0b"/>
<rect x="1898.36" y="235.18" width="18.9" height="2.55" fill="#090909"/>
<rect x="1917.26" y="235.18" width="12.6" height="2.55" fill="#0c0c0c"/>
<rect x="1929.86" y="235.18" width="25.2" height="2.55" fill="#080808"/>
<rect x="1955.06" y="235.18" width="18.9" height="2.55" fill="#090909"/>
<rect x="1973.96" y="235.18" width="12.6" height="2.55" fill="#080808"/>
<rect x="1986.56" y="235.18" width="6.3" height="2.55" fill="#0b0b0b"/>
<rect x="1992.86" y="235.18" width="25.2" height="2.55" fill="#060606"/>
<rect x="2018.06" y="235.18" width="18.9" height="2.55" fill="#080808"/>
<rect x="2036.95" y="235.18" width="56.7" height="2.55" fill="#050505"/>
<rect x="2093.65" y="235.18" width="112.14" height="2.55" fill="#030303"/>
<rect x="1192.78" y="232.64" width="37.8" height="2.55" fill="#232323"/>
<rect x="1230.58" y="232.64" width="18.9" height="2.55" fill="#212121"/>
<rect x="1249.48" y="232.64" width="6.3" height="2.55" fill="#242424"/>
<rect x="1255.78" y="232.64" width="6.3" height="2.55" fill="#202020"/>
<rect x="1262.08" y="232.64" width="37.8" height="2.55" fill="#232323"/>
<rect x="1299.88" y="232.64" width="25.2" height="2.55" fill="#222222"/>
<rect x="1325.08" y="232.64" width="6.3" height="2.55" fill="#171717"/>
<rect x="1331.38" y="232.64" width="6.3" height="2.55" fill="#1b1b1b"/>
<rect x="1337.68" y="232.64" width="6.3" height="2.55" fill="#202020"/>
<rect x="1343.98" y="232.64" width="6.3" height="2.55" fill="#161616"/>
<rect x="1350.28" y="232.64" width="6.3" height="2.55" fill="#0f0f0f"/>
<rect x="1356.58" y="232.64" width="12.6" height="2.55" fill="#181818"/>
<rect x="1369.17" y="232.64" width="6.3" height="2.55" fill="#131313"/>
<rect x="1375.47" y="232.64" width="18.9" height="2.55" fill="#080808"/>
<rect x="1394.37" y="232.64" width="12.6" height="2.55" fill="#070707"/>
<rect x="1406.97" y="232.64" width="6.3" height="2.55" fill="#0e0e0e"/>
<rect x="1413.27" y="232.64" width="6.3" height="2.55" fill="#141414"/>
<rect x="1419.57" y="232.64" width="12.6" height="2.55" fill="#0a0a0a"/>
<rect x="1432.17" y="232.64" width="12.6" height="2.55" fill="#0f0f0f"/>
<rect x="1444.77" y="232.64" width="12.6" height="2.55" fill="#0c0c0c"/>
<rect x="1457.37" y="232.64" width="12.6" height="2.55" fill="#0f0f0f"/>
<rect x="1469.97" y="232.64" width="6.3" height="2.55" fill="#0c0c0c"/>
<rect x="1476.27" y="232.64" width="6.3" height="2.55" fill="#060606"/>
<rect x="1482.57" y="232.64" width="6.3" height="2.55" fill="#090909"/>
<rect x="1488.87" y="232.64" width="12.6" height="2.55" fill="#0e0e0e"/>
<rect x="1501.47" y="232.64" width="6.3" height="2.55" fill="#0b0b0b"/>
<rect x="1507.77" y="232.64" width="12.6" height="2.55" fill="#101010"/>
<rect x="1520.37" y="232.64" width="6.3" height="2.55" fill="#0a0a0a"/>
<rect x="1526.67" y="232.64" width="6.3" height="2.55" fill="#121212"/>
<rect x="1532.97" y="232.64" width="12.6" height="2.55" fill="#0b0b0b"/>
<rect x="1545.57" y="232.64" width="25.2" height="2.55" fill="#070707"/>
<rect x="1570.77" y="232.64" width="12.6" height="2.55" fill="#0c0c0c"/>
<rect x="1583.37" y="232.64" width="3.78" height="2.55" fill="#161616"/>
<rect x="1587.15" y="232.64" width="2.52" height="2.55" fill="#111111"/>
<rect x="1589.67" y="232.64" width="151.2" height="2.55" fill="#0e0e0e"/>
<rect x="1740.86" y="232.64" width="56.7" height="2.55" fill="#0d0d0d"/>
<rect x="1797.56" y="232.64" width="18.9" height="2.55" fill="#0a0a0a"/>
<rect x="1816.46" y="232.64" width="25.2" height="2.55" fill="#090909"/>
<rect x="1841.66" y="232.64" width="18.9" height="2.55" fill="#090909"/>
<rect x="1860.56" y="232.64" width="12.6" height="2.55" fill="#060606"/>
<rect x="1873.16" y="232.64" width="25.2" height="2.55" fill="#080808"/>
<rect x="1898.36" y="232.64" width="18.9" height="2.55" fill="#050505"/>
<rect x="1917.26" y="232.64" width="12.6" height="2.55" fill="#080808"/>
<rect x="1929.86" y="232.64" width="69.3" height="2.55" fill="#060606"/>
<rect x="1999.16" y="232.64" width="37.8" height="2.55" fill="#040404"/>
<rect x="2036.95" y="232.64" width="168.84" height="2.55" fill="#030303"/>
<rect x="1192.78" y="230.09" width="6.3" height="2.55" fill="#1b1b1b"/>
<rect x="1199.08" y="230.09" width="6.3" height="2.55" fill="#1e1e1e"/>
<rect x="1205.38" y="230.09" width="6.3" height="2.55" fill="#151515"/>
<rect x="1211.68" y="230.09" width="6.3" height="2.55" fill="#1a1a1a"/>
<rect x="1217.98" y="230.09" width="12.6" height="2.55" fill="#212121"/>
<rect x="1230.58" y="230.09" width="12.6" height="2.55" fill="#131313"/>
<rect x="1243.18" y="230.09" width="6.3" height="2.55" fill="#111111"/>
<rect x="1249.48" y="230.09" width="6.3" height="2.55" fill="#191919"/>
<rect x="1255.78" y="230.09" width="6.3" height="2.55" fill="#101010"/>
<rect x="1262.08" y="230.09" width="6.3" height="2.55" fill="#1a1a1a"/>
<rect x="1268.38" y="230.09" width="6.3" height="2.55" fill="#1f1f1f"/>
<rect x="1274.68" y="230.09" width="6.3" height="2.55" fill="#181818"/>
<rect x="1280.98" y="230.09" width="12.6" height="2.55" fill="#212121"/>
<rect x="1293.58" y="230.09" width="6.3" height="2.55" fill="#171717"/>
<rect x="1299.88" y="230.09" width="6.3" height="2.55" fill="#232323"/>
<rect x="1306.18" y="230.09" width="6.3" height="2.55" fill="#1f1f1f"/>
<rect x="1312.48" y="230.09" width="37.8" height="2.55" fill="#232323"/>
<rect x="1350.28" y="230.09" width="6.3" height="2.55" fill="#1f1f1f"/>
<rect x="1356.58" y="230.09" width="18.9" height="2.55" fill="#232323"/>
<rect x="1375.47" y="230.09" width="12.6" height="2.55" fill="#141414"/>
<rect x="1388.07" y="230.09" width="6.3" height="2.55" fill="#181818"/>
<rect x="1394.37" y="230.09" width="12.6" height="2.55" fill="#121212"/>
<rect x="1406.97" y="230.09" width="6.3" height="2.55" fill="#1d1d1d"/>
<rect x="1413.27" y="230.09" width="6.3" height="2.55" fill="#222222"/>
<rect x="1419.57" y="230.09" width="12.6" height="2.55" fill="#181818"/>
<rect x="1432.17" y="230.09" width="12.6" height="2.55" fill="#1e1e1e"/>
<rect x="1444.77" y="230.09" width="12.6" height="2.55" fill="#1b1b1b"/>
<rect x="1457.37" y="230.09" width="12.6" height="2.55" fill="#1e1e1e"/>
<rect x="1469.97" y="230.09" width="6.3" height="2.55" fill="#1b1b1b"/>
<rect x="1476.27" y="230.09" width="6.3" height="2.55" fill="#111111"/>
<rect x="1482.57" y="230.09" width="6.3" height="2.55" fill="#171717"/>
<rect x="1488.87" y="230.09" width="12.6" height="2.55" fill="#1e1e1e"/>
<rect x="1501.47" y="230.09" width="6.3" height="2.55" fill="#1a1a1a"/>
<rect x="1507.77" y="230.09" width="12.6" height="2.55" fill="#1f1f1f"/>
<rect x="1520.37" y="230.09" width="6.3" height="2.55" fill="#181818"/>
<rect x="1526.67" y="230.09" width="6.3" height="2.55" fill="#212121"/>
<rect x="1532.97" y="230.09" width="12.6" height="2.55" fill="#1a1a1a"/>
<rect x="1545.57" y="230.09" width="25.2" height="2.55" fill="#131313"/>
<rect x="1570.77" y="230.09" width="12.6" height="2.55" fill="#1c1c1c"/>
<rect x="1583.37" y="230.09" width="3.78" height="2.55" fill="#232323"/>
<rect x="1587.15" y="230.09" width="2.52" height="2.55" fill="#1b1b1b"/>
<rect x="1589.67" y="230.09" width="75.6" height="2.55" fill="#0e0e0e"/>
<rect x="1665.27" y="230.09" width="50.4" height="2.55" fill="#0a0a0a"/>
<rect x="1715.66" y="230.09" width="25.2" height="2.55" fill="#0b0b0b"/>
<rect x="1740.86" y="230.09" width="6.3" height="2.55" fill="#080808"/>
<rect x="1747.16" y="230.09" width="18.9" height="2.55" fill="#0a0a0a"/>
<rect x="1766.06" y="230.09" width="37.8" height="2.55" fill="#080808"/>
<rect x="1803.86" y="230.09" width="56.7" height="2.55" fill="#060606"/>
<rect x="1860.56" y="230.09" width="81.9" height="2.55" fill="#040404"/>
<rect x="1942.46" y="230.09" width="263.33" height="2.55" fill="#030303"/>
<rect x="1192.78" y="227.55" width="12.6" height="2.55" fill="#0d0d0d"/>
<rect x="1205.38" y="227.55" width="6.3" height="2.55" fill="#080808"/>
<rect x="1211.68" y="227.55" width="6.3" height="2.55" fill="#0b0b0b"/>
<rect x="1217.98" y="227.55" width="12.6" height="2.55" fill="#131313"/>
<rect x="1230.58" y="227.55" width="18.9" height="2.55" fill="#070707"/>
<rect x="1249.48" y="227.55" width="6.3" height="2.55" fill="#0b0b0b"/>
<rect x="1255.78" y="227.55" width="6.3" height="2.55" fill="#060606"/>
<rect x="1262.08" y="227.55" width="6.3" height="2.55" fill="#0b0b0b"/>
<rect x="1268.38" y="227.55" width="6.3" height="2.55" fill="#0f0f0f"/>
<rect x="1274.68" y="227.55" width="6.3" height="2.55" fill="#0a0a0a"/>
<rect x="1280.98" y="227.55" width="12.6" height="2.55" fill="#131313"/>
<rect x="1293.58" y="227.55" width="6.3" height="2.55" fill="#090909"/>
<rect x="1299.88" y="227.55" width="6.3" height="2.55" fill="#151515"/>
<rect x="1306.18" y="227.55" width="6.3" height="2.55" fill="#101010"/>
<rect x="1312.48" y="227.55" width="12.6" height="2.55" fill="#141414"/>
<rect x="1325.08" y="227.55" width="6.3" height="2.55" fill="#1e1e1e"/>
<rect x="1331.38" y="227.55" width="6.3" height="2.55" fill="#1a1a1a"/>
<rect x="1337.68" y="227.55" width="6.3" height="2.55" fill="#161616"/>
<rect x="1343.98" y="227.55" width="6.3" height="2.55" fill="#1f1f1f"/>
<rect x="1350.28" y="227.55" width="6.3" height="2.55" fill="#232323"/>
<rect x="1356.58" y="227.55" width="12.6" height="2.55" fill="#1d1d1d"/>
<rect x="1369.17" y="227.55" width="56.7" height="2.55" fill="#222222"/>
<rect x="1425.87" y="227.55" width="50.4" height="2.55" fill="#232323"/>
<rect x="1476.27" y="227.55" width="6.3" height="2.55" fill="#202020"/>
<rect x="1482.57" y="227.55" width="100.8" height="2.55" fill="#232323"/>
<rect x="1583.37" y="227.55" width="3.78" height="2.55" fill="#1f1f1f"/>
<rect x="1587.15" y="227.55" width="2.52" height="2.55" fill="#181818"/>
<rect x="1589.67" y="227.55" width="18.9" height="2.55" fill="#0d0d0d"/>
<rect x="1608.57" y="227.55" width="12.6" height="2.55" fill="#0a0a0a"/>
<rect x="1621.17" y="227.55" width="6.3" height="2.55" fill="#0d0d0d"/>
<rect x="1627.47" y="227.55" width="37.8" height="2.55" fill="#0a0a0a"/>
<rect x="1665.27" y="227.55" width="50.4" height="2.55" fill="#060606"/>
<rect x="1715.66" y="227.55" width="25.2" height="2.55" fill="#070707"/>
<rect x="1740.86" y="227.55" width="63" height="2.55" fill="#060606"/>
<rect x="1803.86" y="227.55" width="401.93" height="2.55" fill="#030303"/>
<rect x="1192.78" y="225" width="25.2" height="2.55" fill="#040404"/>
<rect x="1217.98" y="225" width="12.6" height="2.55" fill="#070707"/>
<rect x="1230.58" y="225" width="37.8" height="2.55" fill="#030303"/>
<rect x="1268.38" y="225" width="12.6" height="2.55" fill="#050505"/>
<rect x="1280.98" y="225" width="12.6" height="2.55" fill="#070707"/>
<rect x="1293.58" y="225" width="6.3" height="2.55" fill="#040404"/>
<rect x="1299.88" y="225" width="25.2" height="2.55" fill="#070707"/>
<rect x="1325.08" y="225" width="6.3" height="2.55" fill="#0f0f0f"/>
<rect x="1331.38" y="225" width="6.3" height="2.55" fill="#0b0b0b"/>
<rect x="1337.68" y="225" width="6.3" height="2.55" fill="#080808"/>
<rect x="1343.98" y="225" width="6.3" height="2.55" fill="#101010"/>
<rect x="1350.28" y="225" width="6.3" height="2.55" fill="#171717"/>
<rect x="1356.58" y="225" width="12.6" height="2.55" fill="#0e0e0e"/>
<rect x="1369.17" y="225" width="6.3" height="2.55" fill="#131313"/>
<rect x="1375.47" y="225" width="12.6" height="2.55" fill="#212121"/>
<rect x="1388.07" y="225" width="6.3" height="2.55" fill="#1e1e1e"/>
<rect x="1394.37" y="225" width="12.6" height="2.55" fill="#222222"/>
<rect x="1406.97" y="225" width="6.3" height="2.55" fill="#191919"/>
<rect x="1413.27" y="225" width="6.3" height="2.55" fill="#121212"/>
<rect x="1419.57" y="225" width="12.6" height="2.55" fill="#1e1e1e"/>
<rect x="1432.17" y="225" width="12.6" height="2.55" fill="#171717"/>
<rect x="1444.77" y="225" width="12.6" height="2.55" fill="#1b1b1b"/>
<rect x="1457.37" y="225" width="12.6" height="2.55" fill="#171717"/>
<rect x="1469.97" y="225" width="6.3" height="2.55" fill="#1b1b1b"/>
<rect x="1476.27" y="225" width="6.3" height="2.55" fill="#222222"/>
<rect x="1482.57" y="225" width="6.3" height="2.55" fill="#1e1e1e"/>
<rect x="1488.87" y="225" width="12.6" height="2.55" fill="#181818"/>
<rect x="1501.47" y="225" width="6.3" height="2.55" fill="#1c1c1c"/>
<rect x="1507.77" y="225" width="12.6" height="2.55" fill="#171717"/>
<rect x="1520.37" y="225" width="6.3" height="2.55" fill="#1d1d1d"/>
<rect x="1526.67" y="225" width="6.3" height="2.55" fill="#141414"/>
<rect x="1532.97" y="225" width="12.6" height="2.55" fill="#1c1c1c"/>
<rect x="1545.57" y="225" width="25.2" height="2.55" fill="#212121"/>
<rect x="1570.77" y="225" width="12.6" height="2.55" fill="#1a1a1a"/>
<rect x="1583.37" y="225" width="3.78" height="2.55" fill="#101010"/>
<rect x="1587.15" y="225" width="8.82" height="2.55" fill="#0c0c0c"/>
<rect x="1595.97" y="225" width="25.2" height="2.55" fill="#070707"/>
<rect x="1621.17" y="225" width="6.3" height="2.55" fill="#0a0a0a"/>
<rect x="1627.47" y="225" width="37.8" height="2.55" fill="#070707"/>
<rect x="1665.27" y="225" width="138.6" height="2.55" fill="#040404"/>
<rect x="1803.86" y="225" width="401.93" height="2.55" fill="#030303"/>
<rect x="1192.78" y="222.45" width="151.2" height="2.55" fill="#040404"/>
<rect x="1343.98" y="222.45" width="6.3" height="2.55" fill="#060606"/>
<rect x="1350.28" y="222.45" width="6.3" height="2.55" fill="#090909"/>
<rect x="1356.58" y="222.45" width="18.9" height="2.55" fill="#060606"/>
<rect x="1375.47" y="222.45" width="12.6" height="2.55" fill="#121212"/>
<rect x="1388.07" y="222.45" width="6.3" height="2.55" fill="#0e0e0e"/>
<rect x="1394.37" y="222.45" width="12.6" height="2.55" fill="#131313"/>
<rect x="1406.97" y="222.45" width="6.3" height="2.55" fill="#0a0a0a"/>
<rect x="1413.27" y="222.45" width="6.3" height="2.55" fill="#070707"/>
<rect x="1419.57" y="222.45" width="12.6" height="2.55" fill="#0e0e0e"/>
<rect x="1432.17" y="222.45" width="18.9" height="2.55" fill="#0a0a0a"/>
<rect x="1451.07" y="222.45" width="18.9" height="2.55" fill="#0b0b0b"/>
<rect x="1469.97" y="222.45" width="6.3" height="2.55" fill="#0c0c0c"/>
<rect x="1476.27" y="222.45" width="6.3" height="2.55" fill="#151515"/>
<rect x="1482.57" y="222.45" width="6.3" height="2.55" fill="#0f0f0f"/>
<rect x="1488.87" y="222.45" width="18.9" height="2.55" fill="#0b0b0b"/>
<rect x="1507.77" y="222.45" width="12.6" height="2.55" fill="#090909"/>
<rect x="1520.37" y="222.45" width="6.3" height="2.55" fill="#0e0e0e"/>
<rect x="1526.67" y="222.45" width="6.3" height="2.55" fill="#080808"/>
<rect x="1532.97" y="222.45" width="12.6" height="2.55" fill="#0d0d0d"/>
<rect x="1545.57" y="222.45" width="25.2" height="2.55" fill="#131313"/>
<rect x="1570.77" y="222.45" width="12.6" height="2.55" fill="#0b0b0b"/>
<rect x="1583.37" y="222.45" width="25.2" height="2.55" fill="#060606"/>
<rect x="1608.57" y="222.45" width="56.7" height="2.55" fill="#050505"/>
<rect x="1665.27" y="222.45" width="540.52" height="2.55" fill="#030303"/>
<rect x="1192.78" y="219.91" width="182.69" height="2.55" fill="#030303"/>
<rect x="1375.47" y="219.91" width="31.5" height="2.55" fill="#060606"/>
<rect x="1406.97" y="219.91" width="69.3" height="2.55" fill="#040404"/>
<rect x="1476.27" y="219.91" width="12.6" height="2.55" fill="#070707"/>
<rect x="1488.87" y="219.91" width="56.7" height="2.55" fill="#040404"/>
<rect x="1545.57" y="219.91" width="25.2" height="2.55" fill="#070707"/>
<rect x="1570.77" y="219.91" width="635.02" height="2.55" fill="#030303"/>
<rect x="1192.78" y="217.36" width="394.37" height="2.55" fill="#535353"/>
<rect x="1587.15" y="217.36" width="304.91" height="2.55" fill="#3e3e3e"/>
<rect x="1892.06" y="217.36" width="313.73" height="2.55" fill="#474747"/>
<rect x="1192.78" y="214.82" width="1013.01" height="2.55" fill="#040404"/>
<rect x="1192.78" y="212.27" width="1013.01" height="2.55" fill="#030303"/>
<rect x="1192.78" y="209.73" width="1013.01" height="2.55" fill="#030303"/>
<rect x="1192.78" y="207.18" width="1013.01" height="2.55" fill="#060606"/>
<rect x="1192.78" y="204.64" width="1013.01" height="2.55" fill="#030303"/>
<rect x="1192.78" y="199.55" width="1013.01" height="2.55" fill="#010101"/>
<rect x="1192.78" y="191.91" width="394.37" height="2.55" fill="#121212"/>
<rect x="1587.15" y="191.91" width="618.64" height="2.55" fill="#0e0e0e"/>
<rect x="1192.78" y="186.82" width="1013.01" height="2.55" fill="#030303"/>
<rect x="1192.78" y="184.27" width="1013.01" height="2.55" fill="#010101"/>
<rect x="1192.78" y="181.73" width="1013.01" height="2.55" fill="#020202"/>
<rect x="1192.78" y="179.18" width="1013.01" height="2.55" fill="#060606"/>
<rect x="1192.78" y="176.64" width="1013.01" height="2.55" fill="#020202"/>
<rect x="1192.78" y="174.09" width="394.37" height="2.55" fill="#252525"/>
<rect x="1587.15" y="174.09" width="304.91" height="2.55" fill="#1c1c1c"/>
<rect x="1892.06" y="174.09" width="313.73" height="2.55" fill="#1f1f1f"/>
<rect x="1192.78" y="171.55" width="1013.01" height="2.55" fill="#020202"/>
<rect x="1192.78" y="169" width="1013.01" height="2.55" fill="#070707"/>
<rect x="1192.78" y="166.45" width="1013.01" height="2.55" fill="#020202"/>
<rect x="1192.78" y="163.91" width="1013.01" height="2.55" fill="#040404"/>
<rect x="1192.78" y="161.36" width="1013.01" height="2.55" fill="#040404"/>
<rect x="1192.78" y="158.82" width="1013.01" height="2.55" fill="#050505"/>
<rect x="1192.78" y="156.27" width="1013.01" height="2.55" fill="#060606"/>
<rect x="1192.78" y="153.73" width="394.37" height="2.55" fill="#161616"/>
<rect x="1587.15" y="153.73" width="618.64" height="2.55" fill="#111111"/>
<rect x="1192.78" y="151.18" width="1013.01" height="2.55" fill="#060606"/>
<rect x="1192.78" y="148.64" width="1013.01" height="2.55" fill="#060606"/>
<rect x="1192.78" y="146.09" width="394.37" height="2.55" fill="#0c0c0c"/>
<rect x="1587.15" y="146.09" width="618.64" height="2.55" fill="#090909"/>
<rect x="1192.78" y="143.55" width="1013.01" height="2.55" fill="#060606"/>
<rect x="1192.78" y="141" width="394.37" height="2.55" fill="#0e0e0e"/>
<rect x="1587.15" y="141" width="618.64" height="2.55" fill="#0b0b0b"/>
<rect x="1192.78" y="138.45" width="1013.01" height="2.55" fill="#040404"/>
<rect x="1192.78" y="135.91" width="1013.01" height="2.55" fill="#030303"/>
<rect x="1192.78" y="133.36" width="1013.01" height="2.55" fill="#040404"/>
<rect x="1192.78" y="130.82" width="1013.01" height="2.55" fill="#050505"/>
<rect x="1192.78" y="128.27" width="394.37" height="2.55" fill="#eaeaea"/>
<rect x="1587.15" y="128.27" width="15.12" height="2.55" fill="#a7a7a7"/>
<rect x="1602.27" y="128.27" width="15.12" height="2.55" fill="#c2c2c2"/>
<rect x="1617.39" y="128.27" width="274.67" height="2.55" fill="#b6b6b6"/>
<rect x="1892.06" y="128.27" width="313.73" height="2.55" fill="#cccccc"/>
<rect x="1192.78" y="125.73" width="1013.01" height="2.55" fill="#050505"/>
<rect x="1192.78" y="123.18" width="1013.01" height="2.55" fill="#040404"/>
<rect x="1192.78" y="120.64" width="1013.01" height="2.55" fill="#050505"/>
<rect x="1192.78" y="118.09" width="1013.01" height="2.55" fill="#090909"/>
<rect x="1192.78" y="115.55" width="1013.01" height="2.55" fill="#060606"/>
<rect x="1192.78" y="113" width="1013.01" height="2.55" fill="#060606"/>
<rect x="1192.78" y="110.45" width="1013.01" height="2.55" fill="#050505"/>
<rect x="1192.78" y="107.91" width="1013.01" height="2.55" fill="#040404"/>
<rect x="1192.78" y="105.36" width="1013.01" height="2.55" fill="#040404"/>
<rect x="1192.78" y="102.82" width="1013.01" height="2.55" fill="#090909"/>
<rect x="1192.78" y="100.27" width="1013.01" height="2.55" fill="#030303"/>
<rect x="1192.78" y="97.73" width="512.8" height="2.55" fill="#0a0a0a"/>
<rect x="1705.58" y="97.73" width="500.21" height="2.55" fill="#090909"/>
<rect x="1192.78" y="95.18" width="1013.01" height="2.55" fill="#050505"/>
<rect x="1192.78" y="92.64" width="1013.01" height="2.55" fill="#040404"/>
<rect x="1192.78" y="90.09" width="1013.01" height="2.55" fill="#060606"/>
<rect x="1192.78" y="87.55" width="1013.01" height="2.55" fill="#040404"/>
<rect x="1192.78" y="85" width="394.37" height="2.55" fill="#5f5f5f"/>
<rect x="1587.15" y="85" width="304.91" height="2.55" fill="#343434"/>
<rect x="1892.06" y="85" width="20.16" height="2.55" fill="#2d2d2d"/>
<rect x="1912.22" y="85" width="162.54" height="2.55" fill="#515151"/>
<rect x="2074.75" y="85" width="131.04" height="2.55" fill="#3b3b3b"/>
<rect x="1192.78" y="82.45" width="1013.01" height="2.55" fill="#080808"/>
<rect x="1192.78" y="79.91" width="1013.01" height="2.55" fill="#080808"/>
<rect x="1192.78" y="77.36" width="1013.01" height="2.55" fill="#050505"/>
<rect x="1192.78" y="74.82" width="1013.01" height="2.55" fill="#070707"/>
<rect x="1192.78" y="72.27" width="1013.01" height="2.55" fill="#070707"/>
<rect x="1192.78" y="69.73" width="1013.01" height="2.55" fill="#070707"/>
<rect x="1192.78" y="67.18" width="1013.01" height="2.55" fill="#070707"/>
<rect x="1192.78" y="64.64" width="394.37" height="2.55" fill="#404040"/>
<rect x="1587.15" y="64.64" width="304.91" height="2.55" fill="#303030"/>
<rect x="1892.06" y="64.64" width="313.73" height="2.55" fill="#363636"/>
<rect x="1192.78" y="62.09" width="1013.01" height="2.55" fill="#080808"/>
<rect x="1192.78" y="59.55" width="1013.01" height="2.55" fill="#080808"/>
<rect x="1192.78" y="57" width="394.37" height="2.55" fill="#0d0d0d"/>
<rect x="1587.15" y="57" width="618.64" height="2.55" fill="#0a0a0a"/>
<rect x="1192.78" y="54.45" width="1013.01" height="2.55" fill="#080808"/>
<rect x="1192.78" y="51.91" width="394.37" height="2.55" fill="#171717"/>
<rect x="1587.15" y="51.91" width="618.64" height="2.55" fill="#121212"/>
<rect x="1192.78" y="49.36" width="1013.01" height="2.55" fill="#090909"/>
<rect x="1192.78" y="46.82" width="1013.01" height="2.55" fill="#0a0a0a"/>
<rect x="1192.78" y="44.27" width="1013.01" height="2.55" fill="#070707"/>
<rect x="1192.78" y="41.73" width="18.9" height="2.55" fill="#2c2c2c"/>
<rect x="1212.94" y="41.73" width="18.9" height="2.55" fill="#2c2c2c"/>
<rect x="1248.22" y="41.73" width="3.78" height="2.55" fill="#2c2c2c"/>
<rect x="1262.08" y="41.73" width="10.08" height="2.55" fill="#2c2c2c"/>
<rect x="1274.68" y="41.73" width="5.04" height="2.55" fill="#2c2c2c"/>
<rect x="1286.02" y="41.73" width="12.6" height="2.55" fill="#2c2c2c"/>
<rect x="1326.34" y="41.73" width="260.81" height="2.55" fill="#2c2c2c"/>
<rect x="1587.15" y="41.73" width="180.17" height="2.55" fill="#202020"/>
<rect x="1211.68" y="39.18" width="1.26" height="2.55" fill="#2c2c2c"/>
<rect x="1231.84" y="39.18" width="16.38" height="2.55" fill="#2c2c2c"/>
<rect x="1252" y="39.18" width="10.08" height="2.55" fill="#2c2c2c"/>
<rect x="1272.16" y="39.18" width="2.52" height="2.55" fill="#2c2c2c"/>
<rect x="1279.72" y="39.18" width="6.3" height="2.55" fill="#2c2c2c"/>
<rect x="1298.62" y="39.18" width="27.72" height="2.55" fill="#2c2c2c"/>
<rect x="1767.32" y="39.18" width="124.74" height="2.55" fill="#202020"/>
<rect x="1892.06" y="39.18" width="313.73" height="2.55" fill="#252525"/>
<rect x="1192.78" y="36.64" width="1013.01" height="2.55" fill="#070707"/>
<rect x="1192.78" y="34.09" width="1013.01" height="2.55" fill="#060606"/>
<rect x="1192.78" y="31.55" width="1013.01" height="2.55" fill="#090909"/>
<rect x="1192.78" y="29" width="1013.01" height="2.55" fill="#080808"/>
</g></g>
<rect x="93.5" y="30.5" width="1013.0" height="531.0" fill="none" stroke="#000" stroke-width="1.06"/>
<line x1="172.5" x2="172.5" y1="561.28" y2="566.14" stroke="#000" stroke-width="1.11" shape-rendering="crispEdges"/>
<text x="172.10" y="581.60" text-anchor="middle">−1</text>
<line x1="310.5" x2="310.5" y1="561.28" y2="566.14" stroke="#000" stroke-width="1.11" shape-rendering="crispEdges"/>
<text x="310.20" y="581.60" text-anchor="middle">0</text>
<line x1="448.5" x2="448.5" y1="561.28" y2="566.14" stroke="#000" stroke-width="1.11" shape-rendering="crispEdges"/>
<text x="448.30" y="581.60" text-anchor="middle">1</text>
<line x1="586.5" x2="586.5" y1="561.28" y2="566.14" stroke="#000" stroke-width="1.11" shape-rendering="crispEdges"/>
<text x="586.40" y="581.60" text-anchor="middle">2</text>
<line x1="725.5" x2="725.5" y1="561.28" y2="566.14" stroke="#000" stroke-width="1.11" shape-rendering="crispEdges"/>
<text x="724.50" y="581.60" text-anchor="middle">3</text>
<line x1="863.5" x2="863.5" y1="561.28" y2="566.14" stroke="#000" stroke-width="1.11" shape-rendering="crispEdges"/>
<text x="862.60" y="581.60" text-anchor="middle">4</text>
<line x1="1001.5" x2="1001.5" y1="561.28" y2="566.14" stroke="#000" stroke-width="1.11" shape-rendering="crispEdges"/>
<text x="1000.70" y="581.60" text-anchor="middle">5</text>
<line x1="87.92" x2="92.78" y1="486.5" y2="486.5" stroke="#000" stroke-width="1.11" shape-rendering="crispEdges"/>
<text x="82.16" y="491.40" text-anchor="end">1419.5</text>
<line x1="87.92" x2="92.78" y1="410.5" y2="410.5" stroke="#000" stroke-width="1.11" shape-rendering="crispEdges"/>
<text x="82.16" y="415.46" text-anchor="end">1420.0</text>
<line x1="87.92" x2="92.78" y1="334.5" y2="334.5" stroke="#000" stroke-width="1.11" shape-rendering="crispEdges"/>
<text x="82.16" y="339.52" text-anchor="end">1420.5</text>
<line x1="87.92" x2="92.78" y1="258.5" y2="258.5" stroke="#000" stroke-width="1.11" shape-rendering="crispEdges"/>
<text x="82.16" y="263.58" text-anchor="end">1421.0</text>
<line x1="87.92" x2="92.78" y1="182.5" y2="182.5" stroke="#000" stroke-width="1.11" shape-rendering="crispEdges"/>
<text x="82.16" y="187.64" text-anchor="end">1421.5</text>
<line x1="87.92" x2="92.78" y1="106.5" y2="106.5" stroke="#000" stroke-width="1.11" shape-rendering="crispEdges"/>
<text x="82.16" y="111.70" text-anchor="end">1422.0</text>
<text transform="translate(25.2,298.7) rotate(-90)" text-anchor="middle">NX</text>
<rect x="1169" y="30" width="28" height="532" fill="url(#cbg)"/>
<rect x="1169.5" y="30.5" width="27.0" height="531.0" fill="none" stroke="#000" stroke-width="1.06"/>
<line x1="1197.00" x2="1199.78" y1="173.5" y2="173.5" stroke="#000" stroke-width="0.9"/>
<text y="180.10"><tspan x="1203.4">5</tspan><tspan x="1214.6">×</tspan><tspan x="1228.2">10</tspan><tspan x="1246.9" dy="-5.3" font-size="9.72">9</tspan></text>
<line x1="1197.00" x2="1199.78" y1="395.5" y2="395.5" stroke="#000" stroke-width="0.9"/>
<text y="402.10"><tspan x="1203.4">4</tspan><tspan x="1214.6">×</tspan><tspan x="1228.2">10</tspan><tspan x="1246.9" dy="-5.3" font-size="9.72">9</tspan></text>
<g clip-path="url(#c2)"><polyline points="1463.32,527.83 1468.85,531.2 1474.39,530.16 1479.92,522.91 1485.46,532.75 1490.99,533.01 1496.53,531.46 1502.06,526.8 1507.59,530.42 1513.13,533.79 1518.66,533.27 1524.2,496.25 1529.73,487.18 1535.27,530.94 1540.8,530.42 1546.34,529.9 1551.87,530.68 1557.4,503.24 1562.94,531.97 1568.47,499.35 1574.01,533.27 1579.54,534.56 1585.08,533.79 1590.61,528.35 1596.14,529.39 1601.68,529.9 1607.21,533.79 1612.75,535.34 1618.28,533.27 1623.82,186.2 1629.35,535.08 1634.88,531.72 1640.42,528.61 1645.95,531.2 1651.49,533.79 1657.02,533.01 1662.56,525.24 1668.09,532.49 1673.63,533.53 1679.16,534.3 1684.69,528.87 1690.23,535.34 1695.76,529.13 1701.3,532.75 1706.83,523.95 1712.37,535.34 1717.9,485.37 1723.43,536.63 1728.97,536.63 1734.5,535.6 1740.04,536.12 1745.57,536.12 1751.11,535.6 1756.64,534.05 1762.17,535.34 1767.71,535.34 1773.24,534.82 1778.78,531.72 1784.31,532.49 1789.85,528.09 1795.38,531.2 1800.92,534.82 1806.45,534.05 1811.98,532.75 1817.52,449.4 1823.05,535.08 1828.59,534.05 1834.12,530.94 1839.66,535.08 1845.19,503.24 1850.72,533.79 1856.26,534.56 1861.79,531.72 1867.33,530.42 1872.86,528.09 1878.4,533.53 1883.93,528.87 1889.46,534.3 1895,528.61 1900.53,533.01 1906.07,534.3 1911.6,534.56 1917.14,536.12 1922.67,533.01 1928.21,536.89 1933.74,532.23 1939.27,536.89 1944.81,535.34 1950.34,536.12 1955.88,536.89 1961.41,536.38 1966.95,536.38 1972.48,528.09 1978.01,532.75 1983.55,499.35 1989.08,534.3 1994.62,535.34 2000.15,535.08 2005.69,526.54 2011.22,152.2 2016.75,534.05 2022.29,535.86 2027.82,534.82 2033.36,535.86 2038.89,532.75 2044.43,536.63 2049.96,536.12 2055.5,533.01 2061.03,535.08 2066.56,532.75 2072.1,536.38 2077.63,500.13 2083.17,535.34 2088.7,529.9 2094.24,534.56 2099.77,534.3 2105.3,75.3 2110.84,533.53 2116.37,518.25 2121.91,505.31 2127.44,529.9 2132.98,528.61 2138.51,526.54 2144.04,523.95 2149.58,516.96 2155.11,519.29 2160.65,518.25 2166.18,507.12 2171.72,515.66 2177.25,506.08 2182.78,514.89 2188.32,521.36 2193.85,520.84 2199.39,519.29 2204.92,383.1 2210.46,528.35 2215.99,530.42 2221.53,530.42 2227.06,524.98 2232.59,529.9 2238.13,535.08 2243.66,534.3 2249.2,535.6 2254.73,535.86 2260.27,505.57 2265.8,535.34 2271.33,531.46 2276.87,534.3 2282.4,532.49 2287.94,524.98 2293.47,533.79 2299.01,470.36 2304.54,533.79 2310.07,522.14 2315.61,532.49 2321.14,529.13 2326.68,529.39 2332.21,527.31 2337.75,525.5 2343.28,498.32 2348.82,525.76 2354.35,525.5 2359.88,515.92 2365.42,524.72 2370.95,512.56 2376.49,527.83 2382.02,529.9 2387.56,528.87 2393.09,526.8 2398.62,54.31 2404.16,526.28 2409.69,528.09 2415.23,526.8 2420.76,518.25 2426.3,525.24 2431.83,525.76 2437.36,526.8 2442.9,528.09 2448.43,528.87 2453.97,519.29 2459.5,529.9 2465.04,516.96 2470.57,526.8 2476.11,527.83 2481.64,525.24 2487.17,528.09 2492.71,377.3 2498.24,520.58 2503.78,520.58 2509.31,527.06 2514.85,522.14 2520.38,523.69 2525.91,523.17 2531.45,522.65 2536.98,420.3 2542.52,521.62 2548.05,520.32 2553.59,513.85 2559.12,521.62 2564.65,496.25 2570.19,519.03 2575.72,517.48 2581.26,523.43 2586.79,494.17 2592.33,501.42 2597.86,522.91 2603.4,523.95 2608.93,518.77 2614.46,520.32" fill="none" stroke="#1f77b4" stroke-width="2.083" stroke-linejoin="round" stroke-linecap="square"/>
<circle cx="1524.6" cy="496.25" r="4.86" fill="#f00"/>
<circle cx="1530.13" cy="487.18" r="4.86" fill="#f00"/>
<circle cx="1557.8" cy="503.24" r="4.86" fill="#f00"/>
<circle cx="1568.87" cy="499.35" r="4.86" fill="#f00"/>
<circle cx="1624.22" cy="186.2" r="4.86" fill="#f00"/>
<circle cx="1662.96" cy="525.24" r="4.86" fill="#f00"/>
<circle cx="1668.49" cy="532.49" r="4.86" fill="#f00"/>
<circle cx="1707.23" cy="523.95" r="4.86" fill="#f00"/>
<circle cx="1718.3" cy="485.37" r="4.86" fill="#f00"/>
<circle cx="1817.92" cy="449.4" r="4.86" fill="#f00"/>
<circle cx="1845.59" cy="503.24" r="4.86" fill="#f00"/>
<circle cx="1983.95" cy="499.35" r="4.86" fill="#f00"/>
<circle cx="2006.09" cy="526.54" r="4.86" fill="#f00"/>
<circle cx="2011.62" cy="152.2" r="4.86" fill="#f00"/>
<circle cx="2078.03" cy="500.13" r="4.86" fill="#f00"/>
<circle cx="2105.7" cy="75.3" r="4.86" fill="#f00"/>
<circle cx="2116.77" cy="518.25" r="4.86" fill="#f00"/>
<circle cx="2122.31" cy="505.31" r="4.86" fill="#f00"/>
<circle cx="2166.58" cy="507.12" r="4.86" fill="#f00"/>
<circle cx="2177.65" cy="506.08" r="4.86" fill="#f00"/>
<circle cx="2205.32" cy="383.1" r="4.86" fill="#f00"/>
<circle cx="2260.67" cy="505.57" r="4.86" fill="#f00"/>
<circle cx="2299.41" cy="470.36" r="4.86" fill="#f00"/>
<circle cx="2310.47" cy="522.14" r="4.86" fill="#f00"/>
<circle cx="2343.68" cy="498.32" r="4.86" fill="#f00"/>
<circle cx="2360.28" cy="515.92" r="4.86" fill="#f00"/>
<circle cx="2371.35" cy="512.56" r="4.86" fill="#f00"/>
<circle cx="2399.02" cy="54.31" r="4.86" fill="#f00"/>
<circle cx="2421.16" cy="518.25" r="4.86" fill="#f00"/>
<circle cx="2426.7" cy="525.24" r="4.86" fill="#f00"/>
<circle cx="2454.37" cy="519.29" r="4.86" fill="#f00"/>
<circle cx="2465.44" cy="516.96" r="4.86" fill="#f00"/>
<circle cx="2493.11" cy="377.3" r="4.86" fill="#f00"/>
<circle cx="2537.38" cy="420.3" r="4.86" fill="#f00"/>
<circle cx="2565.05" cy="496.25" r="4.86" fill="#f00"/>
<circle cx="2587.19" cy="494.17" r="4.86" fill="#f00"/>
</g>
<rect x="1406.5" y="30.5" width="1266.0" height="531.0" fill="none" stroke="#000" stroke-width="1.06"/>
<line x1="1461.5" x2="1461.5" y1="561.28" y2="566.14" stroke="#000" stroke-width="1.11" shape-rendering="crispEdges"/>
<text x="1460.60" y="581.60" text-anchor="middle">1419.0</text>
<line x1="1625.5" x2="1625.5" y1="561.28" y2="566.14" stroke="#000" stroke-width="1.11" shape-rendering="crispEdges"/>
<text x="1625.46" y="581.60" text-anchor="middle">1419.5</text>
<line x1="1790.5" x2="1790.5" y1="561.28" y2="566.14" stroke="#000" stroke-width="1.11" shape-rendering="crispEdges"/>
<text x="1790.32" y="581.60" text-anchor="middle">1420.0</text>
<line x1="1955.5" x2="1955.5" y1="561.28" y2="566.14" stroke="#000" stroke-width="1.11" shape-rendering="crispEdges"/>
<text x="1955.18" y="581.60" text-anchor="middle">1420.5</text>
<line x1="2120.5" x2="2120.5" y1="561.28" y2="566.14" stroke="#000" stroke-width="1.11" shape-rendering="crispEdges"/>
<text x="2120.04" y="581.60" text-anchor="middle">1421.0</text>
<line x1="2285.5" x2="2285.5" y1="561.28" y2="566.14" stroke="#000" stroke-width="1.11" shape-rendering="crispEdges"/>
<text x="2284.90" y="581.60" text-anchor="middle">1421.5</text>
<line x1="2450.5" x2="2450.5" y1="561.28" y2="566.14" stroke="#000" stroke-width="1.11" shape-rendering="crispEdges"/>
<text x="2449.76" y="581.60" text-anchor="middle">1422.0</text>
<line x1="2615.5" x2="2615.5" y1="561.28" y2="566.14" stroke="#000" stroke-width="1.11" shape-rendering="crispEdges"/>
<text x="2614.62" y="581.60" text-anchor="middle">1422.5</text>
<line x1="1400.90" x2="1405.76" y1="536.5" y2="536.5" stroke="#000" stroke-width="1.11" shape-rendering="crispEdges"/>
<text x="1395.14" y="541.05" text-anchor="end">3.8</text>
<line x1="1400.90" x2="1405.76" y1="456.5" y2="456.5" stroke="#000" stroke-width="1.11" shape-rendering="crispEdges"/>
<text x="1395.14" y="461.55" text-anchor="end">4.0</text>
<line x1="1400.90" x2="1405.76" y1="377.5" y2="377.5" stroke="#000" stroke-width="1.11" shape-rendering="crispEdges"/>
<text x="1395.14" y="382.05" text-anchor="end">4.2</text>
<line x1="1400.90" x2="1405.76" y1="297.5" y2="297.5" stroke="#000" stroke-width="1.11" shape-rendering="crispEdges"/>
<text x="1395.14" y="302.55" text-anchor="end">4.4</text>
<line x1="1400.90" x2="1405.76" y1="218.5" y2="218.5" stroke="#000" stroke-width="1.11" shape-rendering="crispEdges"/>
<text x="1395.14" y="223.05" text-anchor="end">4.6</text>
<line x1="1400.90" x2="1405.76" y1="138.5" y2="138.5" stroke="#000" stroke-width="1.11" shape-rendering="crispEdges"/>
<text x="1395.14" y="143.55" text-anchor="end">4.8</text>
<line x1="1400.90" x2="1405.76" y1="59.5" y2="59.5" stroke="#000" stroke-width="1.11" shape-rendering="crispEdges"/>
<text x="1395.14" y="64.05" text-anchor="end">5.0</text>
<text x="1405.76" y="26.3">1e9</text>
<g clip-path="url(#c3)"><polyline points="2776.3,150.24 2777.73,133.33 2779.17,116.43 2780.6,136.64 2782.03,135.86 2783.47,111.38 2784.9,98.55 2786.33,105.55 2787.77,136.64 2789.2,142.47 2790.64,148.3 2792.07,172.2 2793.5,196.1 2794.94,192.99 2796.37,163.84 2797.8,144.02 2799.24,124.2 2800.67,158.01 2802.1,116.43 2803.54,125.76 2804.97,121.09 2806.4,116.43 2807.84,123.04 2809.27,143.63 2810.71,143.63 2812.14,168.9 2813.57,169.67 2815.01,192.99 2816.44,189.11 2817.87,169.67 2819.31,150.24 2820.74,202.71 2822.17,221.36 2823.61,190.27 2825.04,200.77 2826.47,191.05 2827.91,170.65 2829.34,150.24 2830.78,167.73 2832.21,148.3 2833.64,163.07 2835.08,140.52 2836.51,138.19 2837.94,135.86 2839.38,105.55 2840.81,98.55 2842.24,111.38 2843.68,137.61 2845.11,163.84 2846.54,202.71 2847.98,215.34 2849.41,227.97 2850.84,208.54 2852.28,202.71 2853.71,187.16 2855.15,185.22 2856.58,205.82 2858.01,178.61 2859.45,179.39 2860.88,180.17 2862.31,171.62 2863.75,176.28 2865.18,202.71 2866.61,159.96 2868.05,185.22 2869.48,210.48 2870.91,163.07 2872.35,194.16 2873.78,185.8 2875.22,177.45 2876.65,173.56 2878.08,181.33 2879.52,169.67 2880.95,152.77 2882.38,135.86 2883.82,137.42 2885.25,124.2 2886.68,124.2 2888.12,152.18 2889.55,164.82 2890.98,177.45 2892.42,202.71 2893.85,226.03 2895.29,226.81 2896.72,220.98 2898.15,215.15 2899.59,234.58 2901.02,222.14 2902.45,230.69 2903.89,217.48 2905.32,239.63 2906.75,231.86 2908.19,224.08 2909.62,227.97 2911.05,181.33 2912.49,213.59 2913.92,177.45 2915.35,169.67 2916.79,166.95 2918.22,191.05 2919.66,169.67 2921.09,180.17 2922.52,163.84 2923.96,147.52 2925.39,177.45 2926.82,217.48 2928.26,204.65 2929.69,202.71 2931.12,200.77 2932.56,189.11 2933.99,169.67 2935.42,191.83 2936.86,156.07 2938.29,150.24 2939.73,150.24 2941.16,177.45 2942.59,194.94 2944.03,217.48 2945.46,165.79 2946.89,159.18 2948.33,179.39 2949.76,167.73 2951.19,149.85 2952.63,131.97 2954.06,134.69 2955.49,137.22 2956.93,139.75 2958.36,163.84 2959.8,185.22 2961.23,206.6 2962.66,200.77 2964.1,166.95 2965.53,204.65 2966.96,171.62 2968.4,164.23 2969.83,156.85 2971.26,177.45 2972.7,222.92 2974.13,170.84 2975.56,195.71 2977,169.67 2978.43,158.99 2979.86,148.3 2981.3,171.62 2982.73,191.83 2984.17,192.99 2985.6,224.08 2987.03,172.39 2988.47,166.95 2989.9,171.62 2991.33,187.16 2992.77,149.08 2994.2,149.08 2995.63,149.08 2997.07,165.79 2998.5,166.95 2999.93,144.41 3001.37,142.08 3002.8,139.75 3004.24,142.47 3005.67,165.79 3007.1,138.58 3008.54,136.64 3009.97,134.69 3011.4,161.9 3012.84,178.81 3014.27,195.71 3015.7,165.79 3017.14,174.73 3018.57,147.52 3020,158.01 3021.44,146.35 3022.87,154.13 3024.31,157.04 3025.74,159.96 3027.17,167.73 3028.61,136.64 3030.04,124.85 3031.47,113.07 3032.91,133.28 3034.34,155.82 3035.77,152.71 3037.21,156.6 3038.64,156.6 3040.07,149.6 3041.51,150.77 3042.94,156.6 3044.37,164.37 3045.81,172.14 3047.24,156.6 3048.68,151.93 3050.11,162.43 3051.54,175.45 3052.98,188.46 3054.41,156.6 3055.84,135.22 3057.28,113.84 3058.71,137.16 3060.14,148.82 3061.58,151.93 3063.01,142.99 3064.44,150.77 3065.88,133.28 3067.31,139.11 3068.75,150.77 3070.18,115.79 3071.61,97.52 3073.05,100.24 3074.48,115.79 3075.91,106.85 3077.35,119.67 3078.78,128.61 3080.21,129.39 3081.65,102.18 3083.08,78.87 3084.51,77.7 3085.95,90.52 3087.38,111.9 3088.82,106.07 3090.25,100.24 3091.68,115.79 3093.12,104.13 3094.55,81.97 3095.98,88.58 3097.42,86.64 3098.85,104.13 3100.28,122.39 3101.72,102.18 3103.15,106.85 3104.58,90.52 3106.02,70.31 3107.45,67.21 3108.88,92.47 3110.32,85.86 3111.75,89.75 3113.19,71.87 3114.62,71.09 3116.05,71.48 3117.49,71.87 3118.92,74.2 3120.35,81.97 3121.79,69.15 3123.22,64.1 3124.65,74.2 3126.09,80.81 3127.52,98.3 3128.95,111.9 3130.39,113.84 3131.82,127.45 3133.26,115.79 3134.69,107.04 3136.12,98.3 3137.56,92.47 3138.99,109.96 3140.42,101.41 3141.86,102.96 3143.29,104.13 3144.72,111.9 3146.16,96.35 3147.59,109.96 3149.02,109.18 3150.46,110.73 3151.89,117.73 3153.33,134.05 3154.76,106.85 3156.19,93.25 3157.63,79.64 3159.06,92.47 3160.49,106.07 3161.93,113.07 3163.36,123.56 3164.79,134.05 3166.23,121.62 3167.66,104.13 3169.09,87.42 3170.53,88.58 3171.96,75.76 3173.39,87.42 3174.83,74.2 3176.26,85.86 3177.7,71.87 3179.13,92.47 3180.56,76.92 3182,89.75 3183.43,73.04 3184.86,71.87 3186.3,84.69 3187.73,81.97 3189.16,74.2 3190.6,76.92 3192.03,66.43 3193.46,62.54 3194.9,58.66 3196.33,70.31 3197.77,86.64 3199.2,102.18 3200.63,76.92 3202.07,53.6 3203.5,70.31 3204.93,56.32 3206.37,55.55 3207.8,73.04 3209.23,69.15 3210.67,85.86 3212.1,98.3 3213.53,109.96 3214.97,89.75 3216.4,84.69 3217.83,90.52 3219.27,73.04 3220.7,66.62 3222.14,60.21 3223.57,74.2 3225,214.13 3226.44,221.9 3227.87,188.87 3229.3,189.64 3230.74,212.18 3232.17,214.13 3233.6,219.18 3235.04,223.84 3236.47,200.52 3237.9,200.91 3239.34,201.3 3240.77,195.86 3242.21,74.2 3243.64,94.41 3245.07,108.01 3246.51,121.62 3247.94,104.13 3249.37,85.86 3250.81,141.05 3252.24,285.25 3253.67,197.99 3255.11,110.73 3256.54,168.25 3257.97,144.94 3259.41,196.64 3260.84,229.67 3262.28,232.39 3263.71,280.2 3265.14,251.83 3266.58,274.37 3268.01,258.05 3269.44,264.65 3270.88,260.77 3272.31,249.11 3273.74,264.65 3275.18,266.6 3276.61,260.77 3278.04,256.88 3279.48,252.99 3280.91,266.6 3282.34,278.25 3283.78,280.2 3285.21,286.03 3286.65,279.81 3288.08,273.59 3289.51,284.08 3290.95,311.09 3292.38,297.49 3293.81,326.64 3295.25,349.96 3296.68,309.15 3298.11,296.32 3299.55,344.13 3300.98,318.87 3302.41,286.81 3303.85,316.92 3305.28,307.21 3306.72,282.14 3308.15,295.55 3309.58,262.71 3311.02,273.59 3312.45,249.11 3313.88,254.16 3315.32,278.25 3316.75,357.73 3318.18,384.94 3319.62,394.65 3321.05,349.96 3322.48,326.64 3323.92,311.09 3325.35,296.32 3326.79,318.87 3328.22,336.35 3329.65,337.52 3331.09,357.73 3332.52,375.22 3333.95,357.73 3335.39,330.52 3336.82,357.73 3338.25,394.65 3339.69,384.94 3341.12,359.67 3342.55,339.08 3343.99,355.79 3345.42,367.45 3346.85,359.67 3348.29,388.82 3349.72,419.91 3351.16,390.77 3352.59,408.25 3354.02,437.42 3355.46,379.11 3356.89,408.25 3358.32,435.66 3359.76,463.07 3361.19,428.87 3362.62,364.73 3364.06,392.71 3365.49,416.03 3366.92,419.91 3368.36,370.17 3369.79,388.82 3371.23,357.73 3372.66,373.28 3374.09,361.62 3375.53,384.16 3376.96,386.88 3378.39,330.52 3379.83,318.87 3381.26,301.38 3382.69,330.52 3384.13,361.62 3385.56,404.37 3386.99,425.76 3388.43,412.14 3389.86,400.48 3391.3,436.64 3392.73,439.75 3394.16,390.77 3395.6,388.05 3397.03,386.88 3398.46,425.76 3399.9,400.49 3401.33,375.22 3402.76,327.42 3404.2,349.96 3405.63,363.56 3407.06,396.6 3408.5,416.03 3409.93,382.99 3411.36,412.14 3412.8,414.08 3414.23,421.86 3415.67,404.37 3417.1,410.2 3418.53,398.54 3419.97,408.25 3421.4,367.45 3422.83,337.52 3424.27,357.73 3425.7,425.76 3427.13,403.59 3428.57,404.37 3430,416.62 3431.43,428.87 3432.87,472.39 3434.3,465.79 3435.74,478.61 3437.17,436.64 3438.6,423.8 3440.04,426.92 3441.47,450.24 3442.9,414.08 3444.34,408.25 3445.77,393.49 3447.2,422.84 3448.64,452.18 3450.07,476.28 3451.5,444.41 3452.94,417.97 3454.37,396.6 3455.81,379.11 3457.24,388.82 3458.67,441.3 3460.11,382.99 3461.54,374.05 3462.97,388.82 3464.41,410.2 3465.84,404.37 3467.27,478.61 3468.71,436.64 3470.14,384.16 3471.57,392.71 3473.01,384.94 3474.44,377.94 3475.87,412.14 3477.31,455.29 3478.74,430.81 3480.18,435.86 3481.61,428.09 3483.04,463.84 3484.48,487.16 3485.91,461.9 3487.34,456.07 3488.78,460.73 3490.21,435.86 3491.64,460.73 3493.08,394.65 3494.51,426.92 3495.94,406.31 3497.38,389.6 3498.81,448.3 3500.25,507.76 3501.68,415.25 3503.11,428.87 3504.55,439.75 3505.98,441.3 3507.41,381.83 3508.85,384.16 3510.28,377.94 3511.71,384.94 3513.15,394.65 3514.58,404.37 3516.01,452.18 3517.45,459.96 3518.88,477.45 3520.32,454.13 3521.75,471.62 3523.18,454.13 3524.62,425.36 3526.05,396.6 3527.48,458.01 3528.92,459.18 3530.35,459.96 3531.78,445.19 3533.22,425.76 3534.65,436.64 3536.08,463.84 3537.52,432.55 3538.95,401.26 3540.38,446.35 3541.82,435.86 3543.25,461.9 3544.69,450.24 3546.12,491.83 3547.55,463.84 3548.99,465.79 3550.42,483.28 3551.85,490.27 3553.29,487.16 3554.72,424.98 3556.15,400.88 3557.59,424.2 3559.02,428.87 3560.45,445.19 3561.89,401.66 3563.32,364.65 3564.76,345.22 3566.19,365.82 3567.62,362.71 3569.06,312.96 3570.49,368.54 3571.92,265.55 3573.36,223.49 3574.79,226.6 3576.22,244.08 3577.66,214.94 3579.09,200.17 3580.52,235.15 3581.96,205.22 3583.39,183.84 3584.83,187.73 3586.26,216.88 3587.69,209.11 3589.13,201.33 3590.56,207.16 3591.99,178.01 3593.43,211.83 3594.86,209.11 3596.29,195.5 3597.73,179.18 3599.16,176.85 3600.59,168.3 3602.03,150.81 3603.46,144.2 3604.89,148.09 3606.33,162.47 3607.76,170.24 3609.2,187.73 3610.63,189.67 3612.06,198.61 3613.5,163.63 3614.93,222.71 3616.36,245.25 3617.8,238.25 3619.23,212.99 3620.66,233.59 3622.1,222.71 3623.53,181.9 3624.96,187.73 3626.4,214.16 3627.83,185.79 3629.27,181.9 3630.7,193.56 3632.13,187.73 3633.57,181.9 3635,183.84 3636.43,180.73 3637.87,195.5 3639.3,218.05 3640.73,221.93 3642.17,236.31 3643.6,212.99 3645.03,200.17 3646.47,207.16 3647.9,183.84 3649.34,174.13 3650.77,164.41 3652.2,171.41 3653.64,179.96 3655.07,191.62 3656.5,174.13 3657.94,168.3 3659.37,162.47 3660.8,149.84 3662.24,137.21 3663.67,150.81 3665.1,140.31 3666.54,133.32 3667.97,135.26 3669.4,136.43 3670.84,148.87 3672.27,164.41 3673.71,176.07 3675.14,141.09 3676.57,134.1 3678.01,156.64 3679.44,146.92 3680.87,148.87 3682.31,155.67 3683.74,162.47 3685.17,185.79 3686.61,181.9 3688.04,203.28 3689.47,209.11 3690.91,216.88 3692.34,234.37 3693.78,269.39 3695.21,304.41 3696.64,247.97 3698.08,239.03 3699.51,239.03 3700.94,253.26 3702.38,267.49 3703.81,244.08 3705.24,218.82 3706.68,231.26 3708.11,223.49 3709.54,212.99 3710.98,226.6 3712.41,234.37 3713.85,242.14 3715.28,220.77 3716.71,203.28 3718.15,211.83 3719.58,194.73 3721.01,225.82 3722.45,199.39 3723.88,189.67 3725.31,184.62 3726.75,183.07 3728.18,198.61 3729.61,230.48 3731.05,221.93 3732.48,222.71 3733.91,206.77 3735.35,190.84 3736.78,206.39 3738.22,214.16 3739.65,205.22 3741.08,214.94 3742.52,226.6 3743.95,290.81 3745.38,269.43 3746.82,228.54 3748.25,261.66 3749.68,281.87 3751.12,242.14 3752.55,237.48 3753.98,244.08 3755.42,280.31 3756.85,278.76 3758.29,277.21 3759.72,257 3761.15,259.72 3762.59,269.43 3764.02,286.92 3765.45,288.09 3766.89,258.55 3768.32,308.3 3769.75,325.79 3771.19,318.01 3772.62,318.01 3774.05,300.52 3775.49,284.2 3776.92,296.64 3778.36,306.35 3779.79,312.18 3781.22,316.85 3782.66,294.69 3784.09,269.43 3785.52,277.21 3786.96,309.08 3788.39,266.32 3789.82,271.38 3791.26,288.87 3792.69,304.41 3794.12,311.21 3795.56,318.01 3796.99,312.18 3798.42,351.83 3799.86,302.47 3801.29,261.66 3802.73,279.15 3804.16,207.03 3805.59,187.07 3807.03,167.11 3808.46,178.51 3809.89,189.92 3811.33,225.56 3812.76,224.71 3814.19,264.77 3815.63,266.32 3817.06,283.04 3818.49,274.1 3819.93,280.31 3821.36,302.47 3822.8,330.84 3824.23,328.51 3825.66,354.94 3827.1,401.66 3828.53,364.65 3829.96,339.39 3831.4,382.14 3832.83,413.32 3834.26,444.41 3835.7,471.62 3837.13,508.54 3838.56,483.28 3840,454.13 3841.43,536.91 3842.87,452.18 3844.3,500.77 3845.73,494.94 3847.17,459.96 3848.6,452.18 3850.03,421.09 3851.47,456.07 3852.9,426.92 3854.33,373.59 3855.77,358.82 3857.2,340.17 3858.63,413.32 3860.07,398.55 3861.5,409.43 3862.93,431.97 3864.37,407.49 3865.8,340.17 3867.24,351.05 3868.67,349.11 3870.1,378.25 3871.54,403.6 3872.97,386.03 3874.4,381.36 3875.84,384.08 3877.27,347.16 3878.7,345.22 3880.14,312.96 3881.57,329.67 3883,321.9 3884.44,304.41 3885.87,285.76 3887.31,319.96 3888.74,358.82 3890.17,354.94 3891.61,354.16 3893.04,411.38 3894.47,395.74 3895.91,413.32 3897.34,436.64 3898.77,473.56 3900.21,474.73 3901.64,467.73 3903.07,413.32 3904.51,319.96 3905.94,366.6 3907.38,424.98 3908.81,423.04 3910.24,448.3 3911.68,474.73 3913.11,399.72 3914.54,378.25 3915.98,369.7 3917.41,368.54 3918.84,421.09 3920.28,435.86 3921.71,440.52 3923.14,444.41 3924.58,414.1 3926.01,448.3 3927.44,424.2" fill="none" stroke="#1f77b4" stroke-width="2.083" stroke-linejoin="round" stroke-linecap="square"/></g>
<rect x="2719.5" y="30.5" width="1266.0" height="531.0" fill="none" stroke="#000" stroke-width="1.06"/>
<line x1="2776.5" x2="2776.5" y1="561.28" y2="566.14" stroke="#000" stroke-width="1.11" shape-rendering="crispEdges"/>
<text x="2776.30" y="581.60" text-anchor="middle">0</text>
<line x1="2920.5" x2="2920.5" y1="561.28" y2="566.14" stroke="#000" stroke-width="1.11" shape-rendering="crispEdges"/>
<text x="2919.66" y="581.60" text-anchor="middle">100</text>
<line x1="3063.5" x2="3063.5" y1="561.28" y2="566.14" stroke="#000" stroke-width="1.11" shape-rendering="crispEdges"/>
<text x="3063.01" y="581.60" text-anchor="middle">200</text>
<line x1="3206.5" x2="3206.5" y1="561.28" y2="566.14" stroke="#000" stroke-width="1.11" shape-rendering="crispEdges"/>
<text x="3206.37" y="581.60" text-anchor="middle">300</text>
<line x1="3350.5" x2="3350.5" y1="561.28" y2="566.14" stroke="#000" stroke-width="1.11" shape-rendering="crispEdges"/>
<text x="3349.72" y="581.60" text-anchor="middle">400</text>
<line x1="3493.5" x2="3493.5" y1="561.28" y2="566.14" stroke="#000" stroke-width="1.11" shape-rendering="crispEdges"/>
<text x="3493.08" y="581.60" text-anchor="middle">500</text>
<line x1="3636.5" x2="3636.5" y1="561.28" y2="566.14" stroke="#000" stroke-width="1.11" shape-rendering="crispEdges"/>
<text x="3636.43" y="581.60" text-anchor="middle">600</text>
<line x1="3780.5" x2="3780.5" y1="561.28" y2="566.14" stroke="#000" stroke-width="1.11" shape-rendering="crispEdges"/>
<text x="3779.79" y="581.60" text-anchor="middle">700</text>
<line x1="3923.5" x2="3923.5" y1="561.28" y2="566.14" stroke="#000" stroke-width="1.11" shape-rendering="crispEdges"/>
<text x="3923.14" y="581.60" text-anchor="middle">800</text>
<line x1="2713.88" x2="2718.74" y1="555.5" y2="555.5" stroke="#000" stroke-width="1.11" shape-rendering="crispEdges"/>
<text x="2708.12" y="560.70" text-anchor="end">3.4</text>
<line x1="2713.88" x2="2718.74" y1="487.5" y2="487.5" stroke="#000" stroke-width="1.11" shape-rendering="crispEdges"/>
<text x="2708.12" y="492.54" text-anchor="end">3.5</text>
<line x1="2713.88" x2="2718.74" y1="419.5" y2="419.5" stroke="#000" stroke-width="1.11" shape-rendering="crispEdges"/>
<text x="2708.12" y="424.38" text-anchor="end">3.6</text>
<line x1="2713.88" x2="2718.74" y1="351.5" y2="351.5" stroke="#000" stroke-width="1.11" shape-rendering="crispEdges"/>
<text x="2708.12" y="356.22" text-anchor="end">3.7</text>
<line x1="2713.88" x2="2718.74" y1="283.5" y2="283.5" stroke="#000" stroke-width="1.11" shape-rendering="crispEdges"/>
<text x="2708.12" y="288.06" text-anchor="end">3.8</text>
<line x1="2713.88" x2="2718.74" y1="215.5" y2="215.5" stroke="#000" stroke-width="1.11" shape-rendering="crispEdges"/>
<text x="2708.12" y="219.90" text-anchor="end">3.9</text>
<line x1="2713.88" x2="2718.74" y1="146.5" y2="146.5" stroke="#000" stroke-width="1.11" shape-rendering="crispEdges"/>
<text x="2708.12" y="151.74" text-anchor="end">4.0</text>
<line x1="2713.88" x2="2718.74" y1="78.5" y2="78.5" stroke="#000" stroke-width="1.11" shape-rendering="crispEdges"/>
<text x="2708.12" y="83.58" text-anchor="end">4.1</text>
<text x="2718.74" y="26.3">1e9</text>
</svg></body></html>
